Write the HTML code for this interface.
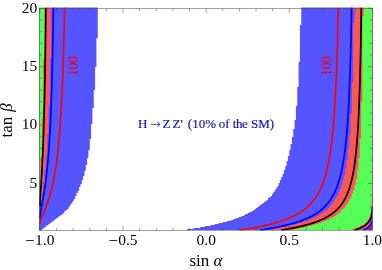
<!DOCTYPE html>
<html><head><meta charset="utf-8"><style>
html,body{margin:0;padding:0;background:#fff;}
body{width:382px;height:270px;overflow:hidden;position:relative;font-family:"Liberation Serif",serif;}
svg{position:absolute;left:0;top:0;will-change:transform;}
text{font-family:"Liberation Serif",serif;}
</style></head><body>
<svg width="382" height="270" viewBox="0 0 382 270">
<defs><clipPath id="cp"><rect x="39.2" y="7.5" width="333.3" height="223.0"/></clipPath></defs>
<g>
<rect x="51.21" y="7.5" width="46.55" height="0.5" fill="#5555ff"/>
<rect x="301.25" y="7.5" width="53.20" height="0.5" fill="#5555ff"/>
<rect x="39.23" y="8" width="58.52" height="1" fill="#5555ff"/>
<rect x="301.25" y="8" width="71.25" height="1" fill="#5555ff"/>
<rect x="39.23" y="9" width="58.52" height="1" fill="#5555ff"/>
<rect x="301.25" y="9" width="71.25" height="1" fill="#5555ff"/>
<rect x="39.23" y="10" width="58.52" height="1" fill="#5555ff"/>
<rect x="301.25" y="10" width="71.25" height="1" fill="#5555ff"/>
<rect x="39.23" y="11" width="58.52" height="1" fill="#5555ff"/>
<rect x="301.25" y="11" width="71.25" height="1" fill="#5555ff"/>
<rect x="39.23" y="12" width="58.52" height="1" fill="#5555ff"/>
<rect x="301.25" y="12" width="71.25" height="1" fill="#5555ff"/>
<rect x="39.23" y="13" width="58.52" height="1" fill="#5555ff"/>
<rect x="301.25" y="13" width="71.25" height="1" fill="#5555ff"/>
<rect x="39.23" y="14" width="58.52" height="1" fill="#5555ff"/>
<rect x="301.25" y="14" width="71.25" height="1" fill="#5555ff"/>
<rect x="39.23" y="15" width="58.52" height="1" fill="#5555ff"/>
<rect x="301.25" y="15" width="71.25" height="1" fill="#5555ff"/>
<rect x="39.23" y="16" width="58.52" height="1" fill="#5555ff"/>
<rect x="301.25" y="16" width="71.25" height="1" fill="#5555ff"/>
<rect x="39.23" y="17" width="58.52" height="1" fill="#5555ff"/>
<rect x="301.25" y="17" width="71.25" height="1" fill="#5555ff"/>
<rect x="39.23" y="18" width="58.52" height="1" fill="#5555ff"/>
<rect x="301.25" y="18" width="71.25" height="1" fill="#5555ff"/>
<rect x="39.23" y="19" width="58.52" height="1" fill="#5555ff"/>
<rect x="301.25" y="19" width="71.25" height="1" fill="#5555ff"/>
<rect x="39.23" y="20" width="58.52" height="1" fill="#5555ff"/>
<rect x="301.25" y="20" width="71.25" height="1" fill="#5555ff"/>
<rect x="39.23" y="21" width="58.52" height="1" fill="#5555ff"/>
<rect x="301.25" y="21" width="71.25" height="1" fill="#5555ff"/>
<rect x="39.23" y="22" width="58.52" height="1" fill="#5555ff"/>
<rect x="301.25" y="22" width="71.25" height="1" fill="#5555ff"/>
<rect x="39.23" y="23" width="58.52" height="1" fill="#5555ff"/>
<rect x="301.25" y="23" width="71.25" height="1" fill="#5555ff"/>
<rect x="39.23" y="24" width="58.52" height="1" fill="#5555ff"/>
<rect x="301.25" y="24" width="71.25" height="1" fill="#5555ff"/>
<rect x="39.23" y="25" width="58.52" height="1" fill="#5555ff"/>
<rect x="299.91" y="25" width="72.59" height="1" fill="#5555ff"/>
<rect x="39.23" y="26" width="58.52" height="1" fill="#5555ff"/>
<rect x="299.91" y="26" width="72.59" height="1" fill="#5555ff"/>
<rect x="39.23" y="27" width="58.52" height="1" fill="#5555ff"/>
<rect x="299.91" y="27" width="72.59" height="1" fill="#5555ff"/>
<rect x="39.23" y="28" width="58.52" height="1" fill="#5555ff"/>
<rect x="299.91" y="28" width="72.59" height="1" fill="#5555ff"/>
<rect x="39.23" y="29" width="58.52" height="1" fill="#5555ff"/>
<rect x="299.91" y="29" width="72.59" height="1" fill="#5555ff"/>
<rect x="39.23" y="30" width="58.52" height="1" fill="#5555ff"/>
<rect x="299.91" y="30" width="72.59" height="1" fill="#5555ff"/>
<rect x="39.23" y="31" width="58.52" height="1" fill="#5555ff"/>
<rect x="299.91" y="31" width="72.59" height="1" fill="#5555ff"/>
<rect x="39.23" y="32" width="58.52" height="1" fill="#5555ff"/>
<rect x="299.91" y="32" width="72.59" height="1" fill="#5555ff"/>
<rect x="39.23" y="33" width="58.52" height="1" fill="#5555ff"/>
<rect x="299.91" y="33" width="72.59" height="1" fill="#5555ff"/>
<rect x="39.23" y="34" width="58.52" height="1" fill="#5555ff"/>
<rect x="299.91" y="34" width="72.59" height="1" fill="#5555ff"/>
<rect x="39.23" y="35" width="58.52" height="1" fill="#5555ff"/>
<rect x="299.91" y="35" width="72.59" height="1" fill="#5555ff"/>
<rect x="39.23" y="36" width="58.52" height="1" fill="#5555ff"/>
<rect x="299.91" y="36" width="72.59" height="1" fill="#5555ff"/>
<rect x="39.23" y="37" width="58.52" height="1" fill="#5555ff"/>
<rect x="299.91" y="37" width="72.59" height="1" fill="#5555ff"/>
<rect x="39.23" y="38" width="57.19" height="1" fill="#5555ff"/>
<rect x="299.91" y="38" width="72.59" height="1" fill="#5555ff"/>
<rect x="39.23" y="39" width="57.19" height="1" fill="#5555ff"/>
<rect x="299.91" y="39" width="72.59" height="1" fill="#5555ff"/>
<rect x="39.23" y="40" width="57.19" height="1" fill="#5555ff"/>
<rect x="299.91" y="40" width="72.59" height="1" fill="#5555ff"/>
<rect x="39.23" y="41" width="57.19" height="1" fill="#5555ff"/>
<rect x="299.91" y="41" width="72.59" height="1" fill="#5555ff"/>
<rect x="39.23" y="42" width="57.19" height="1" fill="#5555ff"/>
<rect x="299.91" y="42" width="72.59" height="1" fill="#5555ff"/>
<rect x="39.23" y="43" width="57.19" height="1" fill="#5555ff"/>
<rect x="299.91" y="43" width="72.59" height="1" fill="#5555ff"/>
<rect x="39.23" y="44" width="57.19" height="1" fill="#5555ff"/>
<rect x="299.91" y="44" width="72.59" height="1" fill="#5555ff"/>
<rect x="39.23" y="45" width="57.19" height="1" fill="#5555ff"/>
<rect x="299.91" y="45" width="72.59" height="1" fill="#5555ff"/>
<rect x="39.23" y="46" width="57.19" height="1" fill="#5555ff"/>
<rect x="299.91" y="46" width="72.59" height="1" fill="#5555ff"/>
<rect x="39.23" y="47" width="57.19" height="1" fill="#5555ff"/>
<rect x="299.91" y="47" width="72.59" height="1" fill="#5555ff"/>
<rect x="39.23" y="48" width="57.19" height="1" fill="#5555ff"/>
<rect x="299.91" y="48" width="72.59" height="1" fill="#5555ff"/>
<rect x="39.23" y="49" width="57.19" height="1" fill="#5555ff"/>
<rect x="299.91" y="49" width="72.59" height="1" fill="#5555ff"/>
<rect x="39.23" y="50" width="57.19" height="1" fill="#5555ff"/>
<rect x="299.91" y="50" width="72.59" height="1" fill="#5555ff"/>
<rect x="39.23" y="51" width="57.19" height="1" fill="#5555ff"/>
<rect x="299.91" y="51" width="72.59" height="1" fill="#5555ff"/>
<rect x="39.23" y="52" width="57.19" height="1" fill="#5555ff"/>
<rect x="299.91" y="52" width="72.59" height="1" fill="#5555ff"/>
<rect x="39.23" y="53" width="57.19" height="1" fill="#5555ff"/>
<rect x="299.91" y="53" width="72.59" height="1" fill="#5555ff"/>
<rect x="39.23" y="54" width="57.19" height="1" fill="#5555ff"/>
<rect x="299.91" y="54" width="72.59" height="1" fill="#5555ff"/>
<rect x="39.23" y="55" width="57.19" height="1" fill="#5555ff"/>
<rect x="299.91" y="55" width="72.59" height="1" fill="#5555ff"/>
<rect x="39.23" y="56" width="57.19" height="1" fill="#5555ff"/>
<rect x="299.91" y="56" width="72.59" height="1" fill="#5555ff"/>
<rect x="39.23" y="57" width="57.19" height="1" fill="#5555ff"/>
<rect x="299.91" y="57" width="72.59" height="1" fill="#5555ff"/>
<rect x="39.23" y="58" width="57.19" height="1" fill="#5555ff"/>
<rect x="299.91" y="58" width="72.59" height="1" fill="#5555ff"/>
<rect x="39.23" y="59" width="57.19" height="1" fill="#5555ff"/>
<rect x="299.91" y="59" width="72.59" height="1" fill="#5555ff"/>
<rect x="39.23" y="60" width="57.19" height="1" fill="#5555ff"/>
<rect x="299.91" y="60" width="72.59" height="1" fill="#5555ff"/>
<rect x="39.23" y="61" width="57.19" height="1" fill="#5555ff"/>
<rect x="299.91" y="61" width="72.59" height="1" fill="#5555ff"/>
<rect x="39.23" y="62" width="57.19" height="1" fill="#5555ff"/>
<rect x="298.58" y="62" width="73.92" height="1" fill="#5555ff"/>
<rect x="39.23" y="63" width="57.19" height="1" fill="#5555ff"/>
<rect x="298.58" y="63" width="73.92" height="1" fill="#5555ff"/>
<rect x="39.23" y="64" width="57.19" height="1" fill="#5555ff"/>
<rect x="298.58" y="64" width="73.92" height="1" fill="#5555ff"/>
<rect x="39.23" y="65" width="57.19" height="1" fill="#5555ff"/>
<rect x="298.58" y="65" width="73.92" height="1" fill="#5555ff"/>
<rect x="39.23" y="66" width="57.19" height="1" fill="#5555ff"/>
<rect x="298.58" y="66" width="73.92" height="1" fill="#5555ff"/>
<rect x="39.23" y="67" width="55.86" height="1" fill="#5555ff"/>
<rect x="298.58" y="67" width="73.92" height="1" fill="#5555ff"/>
<rect x="39.23" y="68" width="55.86" height="1" fill="#5555ff"/>
<rect x="298.58" y="68" width="73.92" height="1" fill="#5555ff"/>
<rect x="39.23" y="69" width="55.86" height="1" fill="#5555ff"/>
<rect x="298.58" y="69" width="73.92" height="1" fill="#5555ff"/>
<rect x="39.23" y="70" width="55.86" height="1" fill="#5555ff"/>
<rect x="298.58" y="70" width="73.92" height="1" fill="#5555ff"/>
<rect x="39.23" y="71" width="55.86" height="1" fill="#5555ff"/>
<rect x="298.58" y="71" width="73.92" height="1" fill="#5555ff"/>
<rect x="39.23" y="72" width="55.86" height="1" fill="#5555ff"/>
<rect x="298.58" y="72" width="73.92" height="1" fill="#5555ff"/>
<rect x="39.23" y="73" width="55.86" height="1" fill="#5555ff"/>
<rect x="298.58" y="73" width="73.92" height="1" fill="#5555ff"/>
<rect x="39.23" y="74" width="55.86" height="1" fill="#5555ff"/>
<rect x="298.58" y="74" width="73.92" height="1" fill="#5555ff"/>
<rect x="39.23" y="75" width="55.86" height="1" fill="#5555ff"/>
<rect x="298.58" y="75" width="73.92" height="1" fill="#5555ff"/>
<rect x="39.23" y="76" width="55.86" height="1" fill="#5555ff"/>
<rect x="298.58" y="76" width="73.92" height="1" fill="#5555ff"/>
<rect x="39.23" y="77" width="55.86" height="1" fill="#5555ff"/>
<rect x="298.58" y="77" width="73.92" height="1" fill="#5555ff"/>
<rect x="39.23" y="78" width="55.86" height="1" fill="#5555ff"/>
<rect x="298.58" y="78" width="73.92" height="1" fill="#5555ff"/>
<rect x="39.23" y="79" width="55.86" height="1" fill="#5555ff"/>
<rect x="298.58" y="79" width="73.92" height="1" fill="#5555ff"/>
<rect x="39.23" y="80" width="55.86" height="1" fill="#5555ff"/>
<rect x="298.58" y="80" width="73.92" height="1" fill="#5555ff"/>
<rect x="39.23" y="81" width="55.86" height="1" fill="#5555ff"/>
<rect x="298.58" y="81" width="73.92" height="1" fill="#5555ff"/>
<rect x="39.23" y="82" width="55.86" height="1" fill="#5555ff"/>
<rect x="298.58" y="82" width="73.92" height="1" fill="#5555ff"/>
<rect x="39.23" y="83" width="55.86" height="1" fill="#5555ff"/>
<rect x="298.58" y="83" width="73.92" height="1" fill="#5555ff"/>
<rect x="39.23" y="84" width="55.86" height="1" fill="#5555ff"/>
<rect x="298.58" y="84" width="73.92" height="1" fill="#5555ff"/>
<rect x="39.23" y="85" width="55.86" height="1" fill="#5555ff"/>
<rect x="298.58" y="85" width="73.92" height="1" fill="#5555ff"/>
<rect x="39.23" y="86" width="55.86" height="1" fill="#5555ff"/>
<rect x="298.58" y="86" width="73.92" height="1" fill="#5555ff"/>
<rect x="39.23" y="87" width="55.86" height="1" fill="#5555ff"/>
<rect x="297.25" y="87" width="75.25" height="1" fill="#5555ff"/>
<rect x="39.23" y="88" width="55.86" height="1" fill="#5555ff"/>
<rect x="297.25" y="88" width="75.25" height="1" fill="#5555ff"/>
<rect x="39.23" y="89" width="55.86" height="1" fill="#5555ff"/>
<rect x="297.25" y="89" width="75.25" height="1" fill="#5555ff"/>
<rect x="39.23" y="90" width="54.53" height="1" fill="#5555ff"/>
<rect x="297.25" y="90" width="75.25" height="1" fill="#5555ff"/>
<rect x="39.23" y="91" width="54.53" height="1" fill="#5555ff"/>
<rect x="297.25" y="91" width="75.25" height="1" fill="#5555ff"/>
<rect x="39.23" y="92" width="54.53" height="1" fill="#5555ff"/>
<rect x="297.25" y="92" width="75.25" height="1" fill="#5555ff"/>
<rect x="39.23" y="93" width="54.53" height="1" fill="#5555ff"/>
<rect x="297.25" y="93" width="75.25" height="1" fill="#5555ff"/>
<rect x="39.23" y="94" width="54.53" height="1" fill="#5555ff"/>
<rect x="297.25" y="94" width="75.25" height="1" fill="#5555ff"/>
<rect x="39.23" y="95" width="54.53" height="1" fill="#5555ff"/>
<rect x="297.25" y="95" width="75.25" height="1" fill="#5555ff"/>
<rect x="39.23" y="96" width="54.53" height="1" fill="#5555ff"/>
<rect x="297.25" y="96" width="75.25" height="1" fill="#5555ff"/>
<rect x="39.23" y="97" width="54.53" height="1" fill="#5555ff"/>
<rect x="297.25" y="97" width="75.25" height="1" fill="#5555ff"/>
<rect x="39.23" y="98" width="54.53" height="1" fill="#5555ff"/>
<rect x="297.25" y="98" width="75.25" height="1" fill="#5555ff"/>
<rect x="39.23" y="99" width="54.53" height="1" fill="#5555ff"/>
<rect x="297.25" y="99" width="75.25" height="1" fill="#5555ff"/>
<rect x="39.23" y="100" width="54.53" height="1" fill="#5555ff"/>
<rect x="297.25" y="100" width="75.25" height="1" fill="#5555ff"/>
<rect x="39.23" y="101" width="54.53" height="1" fill="#5555ff"/>
<rect x="297.25" y="101" width="75.25" height="1" fill="#5555ff"/>
<rect x="39.23" y="102" width="54.53" height="1" fill="#5555ff"/>
<rect x="297.25" y="102" width="75.25" height="1" fill="#5555ff"/>
<rect x="39.23" y="103" width="54.53" height="1" fill="#5555ff"/>
<rect x="297.25" y="103" width="75.25" height="1" fill="#5555ff"/>
<rect x="39.23" y="104" width="54.53" height="1" fill="#5555ff"/>
<rect x="297.25" y="104" width="75.25" height="1" fill="#5555ff"/>
<rect x="39.23" y="105" width="54.53" height="1" fill="#5555ff"/>
<rect x="297.25" y="105" width="75.25" height="1" fill="#5555ff"/>
<rect x="39.23" y="106" width="54.53" height="1" fill="#5555ff"/>
<rect x="295.93" y="106" width="76.57" height="1" fill="#5555ff"/>
<rect x="39.23" y="107" width="54.53" height="1" fill="#5555ff"/>
<rect x="295.93" y="107" width="76.57" height="1" fill="#5555ff"/>
<rect x="39.23" y="108" width="53.20" height="1" fill="#5555ff"/>
<rect x="295.93" y="108" width="76.57" height="1" fill="#5555ff"/>
<rect x="39.23" y="109" width="53.20" height="1" fill="#5555ff"/>
<rect x="295.93" y="109" width="76.57" height="1" fill="#5555ff"/>
<rect x="39.23" y="110" width="53.20" height="1" fill="#5555ff"/>
<rect x="295.93" y="110" width="76.57" height="1" fill="#5555ff"/>
<rect x="39.23" y="111" width="53.20" height="1" fill="#5555ff"/>
<rect x="295.93" y="111" width="76.57" height="1" fill="#5555ff"/>
<rect x="39.23" y="112" width="53.20" height="1" fill="#5555ff"/>
<rect x="295.93" y="112" width="76.57" height="1" fill="#5555ff"/>
<rect x="39.23" y="113" width="53.20" height="1" fill="#5555ff"/>
<rect x="295.93" y="113" width="76.57" height="1" fill="#5555ff"/>
<rect x="39.23" y="114" width="53.20" height="1" fill="#5555ff"/>
<rect x="295.93" y="114" width="76.57" height="1" fill="#5555ff"/>
<rect x="39.23" y="115" width="53.20" height="1" fill="#5555ff"/>
<rect x="295.93" y="115" width="76.57" height="1" fill="#5555ff"/>
<rect x="39.23" y="116" width="53.20" height="1" fill="#5555ff"/>
<rect x="295.93" y="116" width="76.57" height="1" fill="#5555ff"/>
<rect x="39.23" y="117" width="53.20" height="1" fill="#5555ff"/>
<rect x="295.93" y="117" width="76.57" height="1" fill="#5555ff"/>
<rect x="39.23" y="118" width="53.20" height="1" fill="#5555ff"/>
<rect x="295.93" y="118" width="76.57" height="1" fill="#5555ff"/>
<rect x="39.23" y="119" width="53.20" height="1" fill="#5555ff"/>
<rect x="295.93" y="119" width="76.57" height="1" fill="#5555ff"/>
<rect x="39.23" y="120" width="53.20" height="1" fill="#5555ff"/>
<rect x="294.59" y="120" width="77.91" height="1" fill="#5555ff"/>
<rect x="39.23" y="121" width="53.20" height="1" fill="#5555ff"/>
<rect x="294.59" y="121" width="77.91" height="1" fill="#5555ff"/>
<rect x="39.23" y="122" width="53.20" height="1" fill="#5555ff"/>
<rect x="294.59" y="122" width="77.91" height="1" fill="#5555ff"/>
<rect x="39.23" y="123" width="53.20" height="1" fill="#5555ff"/>
<rect x="294.59" y="123" width="77.91" height="1" fill="#5555ff"/>
<rect x="39.23" y="124" width="51.87" height="1" fill="#5555ff"/>
<rect x="294.59" y="124" width="77.91" height="1" fill="#5555ff"/>
<rect x="39.23" y="125" width="51.87" height="1" fill="#5555ff"/>
<rect x="294.59" y="125" width="77.91" height="1" fill="#5555ff"/>
<rect x="39.23" y="126" width="51.87" height="1" fill="#5555ff"/>
<rect x="294.59" y="126" width="77.91" height="1" fill="#5555ff"/>
<rect x="39.23" y="127" width="51.87" height="1" fill="#5555ff"/>
<rect x="294.59" y="127" width="77.91" height="1" fill="#5555ff"/>
<rect x="39.23" y="128" width="51.87" height="1" fill="#5555ff"/>
<rect x="294.59" y="128" width="77.91" height="1" fill="#5555ff"/>
<rect x="39.23" y="129" width="51.87" height="1" fill="#5555ff"/>
<rect x="293.26" y="129" width="79.24" height="1" fill="#5555ff"/>
<rect x="39.23" y="130" width="51.87" height="1" fill="#5555ff"/>
<rect x="293.26" y="130" width="79.24" height="1" fill="#5555ff"/>
<rect x="39.23" y="131" width="51.87" height="1" fill="#5555ff"/>
<rect x="293.26" y="131" width="79.24" height="1" fill="#5555ff"/>
<rect x="39.23" y="132" width="51.87" height="1" fill="#5555ff"/>
<rect x="293.26" y="132" width="79.24" height="1" fill="#5555ff"/>
<rect x="39.23" y="133" width="51.87" height="1" fill="#5555ff"/>
<rect x="293.26" y="133" width="79.24" height="1" fill="#5555ff"/>
<rect x="39.23" y="134" width="51.87" height="1" fill="#5555ff"/>
<rect x="293.26" y="134" width="79.24" height="1" fill="#5555ff"/>
<rect x="39.23" y="135" width="51.87" height="1" fill="#5555ff"/>
<rect x="293.26" y="135" width="79.24" height="1" fill="#5555ff"/>
<rect x="39.23" y="136" width="51.87" height="1" fill="#5555ff"/>
<rect x="293.26" y="136" width="79.24" height="1" fill="#5555ff"/>
<rect x="39.23" y="137" width="51.87" height="1" fill="#5555ff"/>
<rect x="291.94" y="137" width="80.56" height="1" fill="#5555ff"/>
<rect x="39.23" y="138" width="51.87" height="1" fill="#5555ff"/>
<rect x="291.94" y="138" width="80.56" height="1" fill="#5555ff"/>
<rect x="39.23" y="139" width="50.54" height="1" fill="#5555ff"/>
<rect x="291.94" y="139" width="80.56" height="1" fill="#5555ff"/>
<rect x="39.23" y="140" width="50.54" height="1" fill="#5555ff"/>
<rect x="291.94" y="140" width="80.56" height="1" fill="#5555ff"/>
<rect x="39.23" y="141" width="50.54" height="1" fill="#5555ff"/>
<rect x="291.94" y="141" width="80.56" height="1" fill="#5555ff"/>
<rect x="39.23" y="142" width="50.54" height="1" fill="#5555ff"/>
<rect x="291.94" y="142" width="80.56" height="1" fill="#5555ff"/>
<rect x="39.23" y="143" width="50.54" height="1" fill="#5555ff"/>
<rect x="291.94" y="143" width="80.56" height="1" fill="#5555ff"/>
<rect x="39.23" y="144" width="50.54" height="1" fill="#5555ff"/>
<rect x="290.61" y="144" width="81.89" height="1" fill="#5555ff"/>
<rect x="39.23" y="145" width="50.54" height="1" fill="#5555ff"/>
<rect x="290.61" y="145" width="81.89" height="1" fill="#5555ff"/>
<rect x="39.23" y="146" width="50.54" height="1" fill="#5555ff"/>
<rect x="290.61" y="146" width="81.89" height="1" fill="#5555ff"/>
<rect x="39.23" y="147" width="50.54" height="1" fill="#5555ff"/>
<rect x="290.61" y="147" width="81.89" height="1" fill="#5555ff"/>
<rect x="39.23" y="148" width="50.54" height="1" fill="#5555ff"/>
<rect x="290.61" y="148" width="81.89" height="1" fill="#5555ff"/>
<rect x="39.23" y="149" width="50.54" height="1" fill="#5555ff"/>
<rect x="290.61" y="149" width="81.89" height="1" fill="#5555ff"/>
<rect x="39.23" y="150" width="49.21" height="1" fill="#5555ff"/>
<rect x="289.27" y="150" width="83.23" height="1" fill="#5555ff"/>
<rect x="39.23" y="151" width="49.21" height="1" fill="#5555ff"/>
<rect x="289.27" y="151" width="83.23" height="1" fill="#5555ff"/>
<rect x="39.23" y="152" width="49.21" height="1" fill="#5555ff"/>
<rect x="289.27" y="152" width="83.23" height="1" fill="#5555ff"/>
<rect x="39.23" y="153" width="49.21" height="1" fill="#5555ff"/>
<rect x="289.27" y="153" width="83.23" height="1" fill="#5555ff"/>
<rect x="39.23" y="154" width="49.21" height="1" fill="#5555ff"/>
<rect x="289.27" y="154" width="83.23" height="1" fill="#5555ff"/>
<rect x="39.23" y="155" width="49.21" height="1" fill="#5555ff"/>
<rect x="289.27" y="155" width="83.23" height="1" fill="#5555ff"/>
<rect x="39.23" y="156" width="49.21" height="1" fill="#5555ff"/>
<rect x="287.94" y="156" width="84.56" height="1" fill="#5555ff"/>
<rect x="39.23" y="157" width="49.21" height="1" fill="#5555ff"/>
<rect x="287.94" y="157" width="84.56" height="1" fill="#5555ff"/>
<rect x="39.23" y="158" width="47.88" height="1" fill="#5555ff"/>
<rect x="287.94" y="158" width="84.56" height="1" fill="#5555ff"/>
<rect x="39.23" y="159" width="47.88" height="1" fill="#5555ff"/>
<rect x="287.94" y="159" width="84.56" height="1" fill="#5555ff"/>
<rect x="39.23" y="160" width="47.88" height="1" fill="#5555ff"/>
<rect x="287.94" y="160" width="84.56" height="1" fill="#5555ff"/>
<rect x="39.23" y="161" width="47.88" height="1" fill="#5555ff"/>
<rect x="286.62" y="161" width="85.88" height="1" fill="#5555ff"/>
<rect x="39.23" y="162" width="47.88" height="1" fill="#5555ff"/>
<rect x="286.62" y="162" width="85.88" height="1" fill="#5555ff"/>
<rect x="39.23" y="163" width="47.88" height="1" fill="#5555ff"/>
<rect x="286.62" y="163" width="85.88" height="1" fill="#5555ff"/>
<rect x="39.23" y="164" width="47.88" height="1" fill="#5555ff"/>
<rect x="286.62" y="164" width="85.88" height="1" fill="#5555ff"/>
<rect x="39.23" y="165" width="46.55" height="1" fill="#5555ff"/>
<rect x="286.62" y="165" width="85.88" height="1" fill="#5555ff"/>
<rect x="39.23" y="166" width="46.55" height="1" fill="#5555ff"/>
<rect x="285.28" y="166" width="87.22" height="1" fill="#5555ff"/>
<rect x="39.23" y="167" width="46.55" height="1" fill="#5555ff"/>
<rect x="285.28" y="167" width="87.22" height="1" fill="#5555ff"/>
<rect x="39.23" y="168" width="46.55" height="1" fill="#5555ff"/>
<rect x="285.28" y="168" width="87.22" height="1" fill="#5555ff"/>
<rect x="39.23" y="169" width="46.55" height="1" fill="#5555ff"/>
<rect x="285.28" y="169" width="87.22" height="1" fill="#5555ff"/>
<rect x="39.23" y="170" width="46.55" height="1" fill="#5555ff"/>
<rect x="283.95" y="170" width="88.55" height="1" fill="#5555ff"/>
<rect x="39.23" y="171" width="45.22" height="1" fill="#5555ff"/>
<rect x="283.95" y="171" width="88.55" height="1" fill="#5555ff"/>
<rect x="39.23" y="172" width="45.22" height="1" fill="#5555ff"/>
<rect x="283.95" y="172" width="88.55" height="1" fill="#5555ff"/>
<rect x="39.23" y="173" width="45.22" height="1" fill="#5555ff"/>
<rect x="283.95" y="173" width="88.55" height="1" fill="#5555ff"/>
<rect x="39.23" y="174" width="45.22" height="1" fill="#5555ff"/>
<rect x="282.62" y="174" width="89.88" height="1" fill="#5555ff"/>
<rect x="39.23" y="175" width="45.22" height="1" fill="#5555ff"/>
<rect x="282.62" y="175" width="89.88" height="1" fill="#5555ff"/>
<rect x="39.23" y="176" width="43.89" height="1" fill="#5555ff"/>
<rect x="282.62" y="176" width="89.88" height="1" fill="#5555ff"/>
<rect x="39.23" y="177" width="43.89" height="1" fill="#5555ff"/>
<rect x="281.29" y="177" width="91.21" height="1" fill="#5555ff"/>
<rect x="39.23" y="178" width="43.89" height="1" fill="#5555ff"/>
<rect x="281.29" y="178" width="91.21" height="1" fill="#5555ff"/>
<rect x="39.23" y="179" width="43.89" height="1" fill="#5555ff"/>
<rect x="281.29" y="179" width="91.21" height="1" fill="#5555ff"/>
<rect x="39.23" y="180" width="42.56" height="1" fill="#5555ff"/>
<rect x="279.96" y="180" width="92.54" height="1" fill="#5555ff"/>
<rect x="39.23" y="181" width="42.56" height="1" fill="#5555ff"/>
<rect x="279.96" y="181" width="92.54" height="1" fill="#5555ff"/>
<rect x="39.23" y="182" width="42.56" height="1" fill="#5555ff"/>
<rect x="279.96" y="182" width="92.54" height="1" fill="#5555ff"/>
<rect x="39.23" y="183" width="42.56" height="1" fill="#5555ff"/>
<rect x="278.63" y="183" width="93.87" height="1" fill="#5555ff"/>
<rect x="39.23" y="184" width="41.23" height="1" fill="#5555ff"/>
<rect x="278.63" y="184" width="93.87" height="1" fill="#5555ff"/>
<rect x="39.23" y="185" width="41.23" height="1" fill="#5555ff"/>
<rect x="278.63" y="185" width="93.87" height="1" fill="#5555ff"/>
<rect x="39.23" y="186" width="41.23" height="1" fill="#5555ff"/>
<rect x="277.31" y="186" width="95.19" height="1" fill="#5555ff"/>
<rect x="39.23" y="187" width="39.90" height="1" fill="#5555ff"/>
<rect x="277.31" y="187" width="95.19" height="1" fill="#5555ff"/>
<rect x="39.23" y="188" width="39.90" height="1" fill="#5555ff"/>
<rect x="275.97" y="188" width="96.53" height="1" fill="#5555ff"/>
<rect x="39.23" y="189" width="39.90" height="1" fill="#5555ff"/>
<rect x="275.97" y="189" width="96.53" height="1" fill="#5555ff"/>
<rect x="39.23" y="190" width="39.90" height="1" fill="#5555ff"/>
<rect x="274.64" y="190" width="97.86" height="1" fill="#5555ff"/>
<rect x="39.23" y="191" width="38.57" height="1" fill="#5555ff"/>
<rect x="274.64" y="191" width="97.86" height="1" fill="#5555ff"/>
<rect x="39.23" y="192" width="38.57" height="1" fill="#5555ff"/>
<rect x="273.31" y="192" width="99.19" height="1" fill="#5555ff"/>
<rect x="39.23" y="193" width="37.24" height="1" fill="#5555ff"/>
<rect x="273.31" y="193" width="99.19" height="1" fill="#5555ff"/>
<rect x="39.23" y="194" width="37.24" height="1" fill="#5555ff"/>
<rect x="271.99" y="194" width="100.51" height="1" fill="#5555ff"/>
<rect x="39.23" y="195" width="37.24" height="1" fill="#5555ff"/>
<rect x="271.99" y="195" width="100.51" height="1" fill="#5555ff"/>
<rect x="39.23" y="196" width="35.91" height="1" fill="#5555ff"/>
<rect x="270.66" y="196" width="101.84" height="1" fill="#5555ff"/>
<rect x="39.23" y="197" width="35.91" height="1" fill="#5555ff"/>
<rect x="269.32" y="197" width="103.18" height="1" fill="#5555ff"/>
<rect x="39.23" y="198" width="35.91" height="1" fill="#5555ff"/>
<rect x="268.00" y="198" width="104.50" height="1" fill="#5555ff"/>
<rect x="39.23" y="199" width="34.58" height="1" fill="#5555ff"/>
<rect x="268.00" y="199" width="104.50" height="1" fill="#5555ff"/>
<rect x="39.23" y="200" width="34.58" height="1" fill="#5555ff"/>
<rect x="266.67" y="200" width="105.83" height="1" fill="#5555ff"/>
<rect x="39.23" y="201" width="33.25" height="1" fill="#5555ff"/>
<rect x="265.33" y="201" width="107.17" height="1" fill="#5555ff"/>
<rect x="39.23" y="202" width="33.25" height="1" fill="#5555ff"/>
<rect x="264.00" y="202" width="108.50" height="1" fill="#5555ff"/>
<rect x="39.23" y="203" width="31.92" height="1" fill="#5555ff"/>
<rect x="262.68" y="203" width="109.82" height="1" fill="#5555ff"/>
<rect x="39.23" y="204" width="31.92" height="1" fill="#5555ff"/>
<rect x="261.35" y="204" width="111.15" height="1" fill="#5555ff"/>
<rect x="39.23" y="205" width="30.59" height="1" fill="#5555ff"/>
<rect x="260.01" y="205" width="112.49" height="1" fill="#5555ff"/>
<rect x="39.23" y="206" width="30.59" height="1" fill="#5555ff"/>
<rect x="258.69" y="206" width="113.81" height="1" fill="#5555ff"/>
<rect x="39.23" y="207" width="29.26" height="1" fill="#5555ff"/>
<rect x="257.36" y="207" width="115.14" height="1" fill="#5555ff"/>
<rect x="39.23" y="208" width="29.26" height="1" fill="#5555ff"/>
<rect x="256.02" y="208" width="116.48" height="1" fill="#5555ff"/>
<rect x="39.23" y="209" width="27.93" height="1" fill="#5555ff"/>
<rect x="254.70" y="209" width="117.80" height="1" fill="#5555ff"/>
<rect x="39.23" y="210" width="26.60" height="1" fill="#5555ff"/>
<rect x="253.37" y="210" width="119.13" height="1" fill="#5555ff"/>
<rect x="39.23" y="211" width="25.27" height="1" fill="#5555ff"/>
<rect x="252.03" y="211" width="120.47" height="1" fill="#5555ff"/>
<rect x="39.23" y="212" width="25.27" height="1" fill="#5555ff"/>
<rect x="249.38" y="212" width="123.12" height="1" fill="#5555ff"/>
<rect x="39.23" y="213" width="23.94" height="1" fill="#5555ff"/>
<rect x="248.05" y="213" width="124.45" height="1" fill="#5555ff"/>
<rect x="39.23" y="214" width="22.61" height="1" fill="#5555ff"/>
<rect x="245.38" y="214" width="127.12" height="1" fill="#5555ff"/>
<rect x="39.23" y="215" width="21.28" height="1" fill="#5555ff"/>
<rect x="244.06" y="215" width="128.44" height="1" fill="#5555ff"/>
<rect x="39.23" y="216" width="19.95" height="1" fill="#5555ff"/>
<rect x="241.40" y="216" width="131.10" height="1" fill="#5555ff"/>
<rect x="39.23" y="217" width="18.62" height="1" fill="#5555ff"/>
<rect x="238.73" y="217" width="133.77" height="1" fill="#5555ff"/>
<rect x="39.23" y="218" width="17.29" height="1" fill="#5555ff"/>
<rect x="236.07" y="218" width="136.43" height="1" fill="#5555ff"/>
<rect x="39.23" y="219" width="15.96" height="1" fill="#5555ff"/>
<rect x="233.41" y="219" width="139.09" height="1" fill="#5555ff"/>
<rect x="39.23" y="220" width="14.63" height="1" fill="#5555ff"/>
<rect x="230.76" y="220" width="141.74" height="1" fill="#5555ff"/>
<rect x="39.23" y="221" width="13.30" height="1" fill="#5555ff"/>
<rect x="226.77" y="221" width="145.73" height="1" fill="#5555ff"/>
<rect x="39.23" y="222" width="11.97" height="1" fill="#5555ff"/>
<rect x="222.78" y="222" width="149.72" height="1" fill="#5555ff"/>
<rect x="39.23" y="223" width="10.64" height="1" fill="#5555ff"/>
<rect x="218.79" y="223" width="153.71" height="1" fill="#5555ff"/>
<rect x="39.23" y="224" width="9.31" height="1" fill="#5555ff"/>
<rect x="214.80" y="224" width="157.70" height="1" fill="#5555ff"/>
<rect x="39.23" y="225" width="7.98" height="1" fill="#5555ff"/>
<rect x="210.81" y="225" width="161.69" height="1" fill="#5555ff"/>
<rect x="39.23" y="226" width="6.65" height="1" fill="#5555ff"/>
<rect x="205.49" y="226" width="167.01" height="1" fill="#5555ff"/>
<rect x="39.23" y="227" width="5.32" height="1" fill="#5555ff"/>
<rect x="200.16" y="227" width="172.34" height="1" fill="#5555ff"/>
<rect x="39.23" y="228" width="3.99" height="1" fill="#5555ff"/>
<rect x="193.52" y="228" width="178.98" height="1" fill="#5555ff"/>
<rect x="39.23" y="229" width="2.66" height="1" fill="#5555ff"/>
<rect x="186.87" y="229" width="185.63" height="1" fill="#5555ff"/>
<rect x="44.55" y="7.5" width="6.65" height="0.5" fill="#ff5555"/>
<rect x="354.44" y="7.5" width="9.31" height="0.5" fill="#ff5555"/>
<rect x="39.23" y="8" width="11.97" height="1" fill="#ff5555"/>
<rect x="354.44" y="8" width="18.06" height="1" fill="#ff5555"/>
<rect x="39.23" y="9" width="11.97" height="1" fill="#ff5555"/>
<rect x="354.44" y="9" width="18.06" height="1" fill="#ff5555"/>
<rect x="39.23" y="10" width="11.97" height="1" fill="#ff5555"/>
<rect x="354.44" y="10" width="18.06" height="1" fill="#ff5555"/>
<rect x="39.23" y="11" width="11.97" height="1" fill="#ff5555"/>
<rect x="354.44" y="11" width="18.06" height="1" fill="#ff5555"/>
<rect x="39.23" y="12" width="11.97" height="1" fill="#ff5555"/>
<rect x="354.44" y="12" width="18.06" height="1" fill="#ff5555"/>
<rect x="39.23" y="13" width="11.97" height="1" fill="#ff5555"/>
<rect x="354.44" y="13" width="18.06" height="1" fill="#ff5555"/>
<rect x="39.23" y="14" width="11.97" height="1" fill="#ff5555"/>
<rect x="354.44" y="14" width="18.06" height="1" fill="#ff5555"/>
<rect x="39.23" y="15" width="11.97" height="1" fill="#ff5555"/>
<rect x="354.44" y="15" width="18.06" height="1" fill="#ff5555"/>
<rect x="39.23" y="16" width="11.97" height="1" fill="#ff5555"/>
<rect x="354.44" y="16" width="18.06" height="1" fill="#ff5555"/>
<rect x="39.23" y="17" width="11.97" height="1" fill="#ff5555"/>
<rect x="354.44" y="17" width="18.06" height="1" fill="#ff5555"/>
<rect x="39.23" y="18" width="11.97" height="1" fill="#ff5555"/>
<rect x="354.44" y="18" width="18.06" height="1" fill="#ff5555"/>
<rect x="39.23" y="19" width="11.97" height="1" fill="#ff5555"/>
<rect x="354.44" y="19" width="18.06" height="1" fill="#ff5555"/>
<rect x="39.23" y="20" width="11.97" height="1" fill="#ff5555"/>
<rect x="354.44" y="20" width="18.06" height="1" fill="#ff5555"/>
<rect x="39.23" y="21" width="11.97" height="1" fill="#ff5555"/>
<rect x="354.44" y="21" width="18.06" height="1" fill="#ff5555"/>
<rect x="39.23" y="22" width="11.97" height="1" fill="#ff5555"/>
<rect x="354.44" y="22" width="18.06" height="1" fill="#ff5555"/>
<rect x="39.23" y="23" width="11.97" height="1" fill="#ff5555"/>
<rect x="353.12" y="23" width="19.38" height="1" fill="#ff5555"/>
<rect x="39.23" y="24" width="11.97" height="1" fill="#ff5555"/>
<rect x="353.12" y="24" width="19.38" height="1" fill="#ff5555"/>
<rect x="39.23" y="25" width="11.97" height="1" fill="#ff5555"/>
<rect x="353.12" y="25" width="19.38" height="1" fill="#ff5555"/>
<rect x="39.23" y="26" width="11.97" height="1" fill="#ff5555"/>
<rect x="353.12" y="26" width="19.38" height="1" fill="#ff5555"/>
<rect x="39.23" y="27" width="11.97" height="1" fill="#ff5555"/>
<rect x="353.12" y="27" width="19.38" height="1" fill="#ff5555"/>
<rect x="39.23" y="28" width="11.97" height="1" fill="#ff5555"/>
<rect x="353.12" y="28" width="19.38" height="1" fill="#ff5555"/>
<rect x="39.23" y="29" width="11.97" height="1" fill="#ff5555"/>
<rect x="353.12" y="29" width="19.38" height="1" fill="#ff5555"/>
<rect x="39.23" y="30" width="11.97" height="1" fill="#ff5555"/>
<rect x="353.12" y="30" width="19.38" height="1" fill="#ff5555"/>
<rect x="39.23" y="31" width="11.97" height="1" fill="#ff5555"/>
<rect x="353.12" y="31" width="19.38" height="1" fill="#ff5555"/>
<rect x="39.23" y="32" width="11.97" height="1" fill="#ff5555"/>
<rect x="353.12" y="32" width="19.38" height="1" fill="#ff5555"/>
<rect x="39.23" y="33" width="11.97" height="1" fill="#ff5555"/>
<rect x="353.12" y="33" width="19.38" height="1" fill="#ff5555"/>
<rect x="39.23" y="34" width="11.97" height="1" fill="#ff5555"/>
<rect x="353.12" y="34" width="19.38" height="1" fill="#ff5555"/>
<rect x="39.23" y="35" width="11.97" height="1" fill="#ff5555"/>
<rect x="353.12" y="35" width="19.38" height="1" fill="#ff5555"/>
<rect x="39.23" y="36" width="11.97" height="1" fill="#ff5555"/>
<rect x="353.12" y="36" width="19.38" height="1" fill="#ff5555"/>
<rect x="39.23" y="37" width="11.97" height="1" fill="#ff5555"/>
<rect x="353.12" y="37" width="19.38" height="1" fill="#ff5555"/>
<rect x="39.23" y="38" width="11.97" height="1" fill="#ff5555"/>
<rect x="353.12" y="38" width="19.38" height="1" fill="#ff5555"/>
<rect x="39.23" y="39" width="11.97" height="1" fill="#ff5555"/>
<rect x="353.12" y="39" width="19.38" height="1" fill="#ff5555"/>
<rect x="39.23" y="40" width="11.97" height="1" fill="#ff5555"/>
<rect x="353.12" y="40" width="19.38" height="1" fill="#ff5555"/>
<rect x="39.23" y="41" width="11.97" height="1" fill="#ff5555"/>
<rect x="353.12" y="41" width="19.38" height="1" fill="#ff5555"/>
<rect x="39.23" y="42" width="11.97" height="1" fill="#ff5555"/>
<rect x="353.12" y="42" width="19.38" height="1" fill="#ff5555"/>
<rect x="39.23" y="43" width="11.97" height="1" fill="#ff5555"/>
<rect x="353.12" y="43" width="19.38" height="1" fill="#ff5555"/>
<rect x="39.23" y="44" width="11.97" height="1" fill="#ff5555"/>
<rect x="353.12" y="44" width="19.38" height="1" fill="#ff5555"/>
<rect x="39.23" y="45" width="11.97" height="1" fill="#ff5555"/>
<rect x="353.12" y="45" width="19.38" height="1" fill="#ff5555"/>
<rect x="39.23" y="46" width="11.97" height="1" fill="#ff5555"/>
<rect x="353.12" y="46" width="19.38" height="1" fill="#ff5555"/>
<rect x="39.23" y="47" width="11.97" height="1" fill="#ff5555"/>
<rect x="353.12" y="47" width="19.38" height="1" fill="#ff5555"/>
<rect x="39.23" y="48" width="11.97" height="1" fill="#ff5555"/>
<rect x="353.12" y="48" width="19.38" height="1" fill="#ff5555"/>
<rect x="39.23" y="49" width="11.97" height="1" fill="#ff5555"/>
<rect x="353.12" y="49" width="19.38" height="1" fill="#ff5555"/>
<rect x="39.23" y="50" width="11.97" height="1" fill="#ff5555"/>
<rect x="353.12" y="50" width="19.38" height="1" fill="#ff5555"/>
<rect x="39.23" y="51" width="11.97" height="1" fill="#ff5555"/>
<rect x="353.12" y="51" width="19.38" height="1" fill="#ff5555"/>
<rect x="39.23" y="52" width="11.97" height="1" fill="#ff5555"/>
<rect x="353.12" y="52" width="19.38" height="1" fill="#ff5555"/>
<rect x="39.23" y="53" width="11.97" height="1" fill="#ff5555"/>
<rect x="353.12" y="53" width="19.38" height="1" fill="#ff5555"/>
<rect x="39.23" y="54" width="11.97" height="1" fill="#ff5555"/>
<rect x="353.12" y="54" width="19.38" height="1" fill="#ff5555"/>
<rect x="39.23" y="55" width="11.97" height="1" fill="#ff5555"/>
<rect x="353.12" y="55" width="19.38" height="1" fill="#ff5555"/>
<rect x="39.23" y="56" width="11.97" height="1" fill="#ff5555"/>
<rect x="353.12" y="56" width="19.38" height="1" fill="#ff5555"/>
<rect x="39.23" y="57" width="11.97" height="1" fill="#ff5555"/>
<rect x="353.12" y="57" width="19.38" height="1" fill="#ff5555"/>
<rect x="39.23" y="58" width="10.64" height="1" fill="#ff5555"/>
<rect x="353.12" y="58" width="19.38" height="1" fill="#ff5555"/>
<rect x="39.23" y="59" width="10.64" height="1" fill="#ff5555"/>
<rect x="353.12" y="59" width="19.38" height="1" fill="#ff5555"/>
<rect x="39.23" y="60" width="10.64" height="1" fill="#ff5555"/>
<rect x="353.12" y="60" width="19.38" height="1" fill="#ff5555"/>
<rect x="39.23" y="61" width="10.64" height="1" fill="#ff5555"/>
<rect x="353.12" y="61" width="19.38" height="1" fill="#ff5555"/>
<rect x="39.23" y="62" width="10.64" height="1" fill="#ff5555"/>
<rect x="353.12" y="62" width="19.38" height="1" fill="#ff5555"/>
<rect x="39.23" y="63" width="10.64" height="1" fill="#ff5555"/>
<rect x="353.12" y="63" width="19.38" height="1" fill="#ff5555"/>
<rect x="39.23" y="64" width="10.64" height="1" fill="#ff5555"/>
<rect x="353.12" y="64" width="19.38" height="1" fill="#ff5555"/>
<rect x="39.23" y="65" width="10.64" height="1" fill="#ff5555"/>
<rect x="353.12" y="65" width="19.38" height="1" fill="#ff5555"/>
<rect x="39.23" y="66" width="10.64" height="1" fill="#ff5555"/>
<rect x="353.12" y="66" width="19.38" height="1" fill="#ff5555"/>
<rect x="39.23" y="67" width="10.64" height="1" fill="#ff5555"/>
<rect x="353.12" y="67" width="19.38" height="1" fill="#ff5555"/>
<rect x="39.23" y="68" width="10.64" height="1" fill="#ff5555"/>
<rect x="353.12" y="68" width="19.38" height="1" fill="#ff5555"/>
<rect x="39.23" y="69" width="10.64" height="1" fill="#ff5555"/>
<rect x="353.12" y="69" width="19.38" height="1" fill="#ff5555"/>
<rect x="39.23" y="70" width="10.64" height="1" fill="#ff5555"/>
<rect x="353.12" y="70" width="19.38" height="1" fill="#ff5555"/>
<rect x="39.23" y="71" width="10.64" height="1" fill="#ff5555"/>
<rect x="353.12" y="71" width="19.38" height="1" fill="#ff5555"/>
<rect x="39.23" y="72" width="10.64" height="1" fill="#ff5555"/>
<rect x="353.12" y="72" width="19.38" height="1" fill="#ff5555"/>
<rect x="39.23" y="73" width="10.64" height="1" fill="#ff5555"/>
<rect x="353.12" y="73" width="19.38" height="1" fill="#ff5555"/>
<rect x="39.23" y="74" width="10.64" height="1" fill="#ff5555"/>
<rect x="353.12" y="74" width="19.38" height="1" fill="#ff5555"/>
<rect x="39.23" y="75" width="10.64" height="1" fill="#ff5555"/>
<rect x="353.12" y="75" width="19.38" height="1" fill="#ff5555"/>
<rect x="39.23" y="76" width="10.64" height="1" fill="#ff5555"/>
<rect x="353.12" y="76" width="19.38" height="1" fill="#ff5555"/>
<rect x="39.23" y="77" width="10.64" height="1" fill="#ff5555"/>
<rect x="353.12" y="77" width="19.38" height="1" fill="#ff5555"/>
<rect x="39.23" y="78" width="10.64" height="1" fill="#ff5555"/>
<rect x="353.12" y="78" width="19.38" height="1" fill="#ff5555"/>
<rect x="39.23" y="79" width="10.64" height="1" fill="#ff5555"/>
<rect x="353.12" y="79" width="19.38" height="1" fill="#ff5555"/>
<rect x="39.23" y="80" width="10.64" height="1" fill="#ff5555"/>
<rect x="353.12" y="80" width="19.38" height="1" fill="#ff5555"/>
<rect x="39.23" y="81" width="10.64" height="1" fill="#ff5555"/>
<rect x="353.12" y="81" width="19.38" height="1" fill="#ff5555"/>
<rect x="39.23" y="82" width="10.64" height="1" fill="#ff5555"/>
<rect x="351.78" y="82" width="20.72" height="1" fill="#ff5555"/>
<rect x="39.23" y="83" width="10.64" height="1" fill="#ff5555"/>
<rect x="351.78" y="83" width="20.72" height="1" fill="#ff5555"/>
<rect x="39.23" y="84" width="10.64" height="1" fill="#ff5555"/>
<rect x="351.78" y="84" width="20.72" height="1" fill="#ff5555"/>
<rect x="39.23" y="85" width="10.64" height="1" fill="#ff5555"/>
<rect x="351.78" y="85" width="20.72" height="1" fill="#ff5555"/>
<rect x="39.23" y="86" width="10.64" height="1" fill="#ff5555"/>
<rect x="351.78" y="86" width="20.72" height="1" fill="#ff5555"/>
<rect x="39.23" y="87" width="10.64" height="1" fill="#ff5555"/>
<rect x="351.78" y="87" width="20.72" height="1" fill="#ff5555"/>
<rect x="39.23" y="88" width="10.64" height="1" fill="#ff5555"/>
<rect x="351.78" y="88" width="20.72" height="1" fill="#ff5555"/>
<rect x="39.23" y="89" width="10.64" height="1" fill="#ff5555"/>
<rect x="351.78" y="89" width="20.72" height="1" fill="#ff5555"/>
<rect x="39.23" y="90" width="10.64" height="1" fill="#ff5555"/>
<rect x="351.78" y="90" width="20.72" height="1" fill="#ff5555"/>
<rect x="39.23" y="91" width="10.64" height="1" fill="#ff5555"/>
<rect x="351.78" y="91" width="20.72" height="1" fill="#ff5555"/>
<rect x="39.23" y="92" width="10.64" height="1" fill="#ff5555"/>
<rect x="351.78" y="92" width="20.72" height="1" fill="#ff5555"/>
<rect x="39.23" y="93" width="10.64" height="1" fill="#ff5555"/>
<rect x="351.78" y="93" width="20.72" height="1" fill="#ff5555"/>
<rect x="39.23" y="94" width="10.64" height="1" fill="#ff5555"/>
<rect x="351.78" y="94" width="20.72" height="1" fill="#ff5555"/>
<rect x="39.23" y="95" width="10.64" height="1" fill="#ff5555"/>
<rect x="351.78" y="95" width="20.72" height="1" fill="#ff5555"/>
<rect x="39.23" y="96" width="10.64" height="1" fill="#ff5555"/>
<rect x="351.78" y="96" width="20.72" height="1" fill="#ff5555"/>
<rect x="39.23" y="97" width="10.64" height="1" fill="#ff5555"/>
<rect x="351.78" y="97" width="20.72" height="1" fill="#ff5555"/>
<rect x="39.23" y="98" width="10.64" height="1" fill="#ff5555"/>
<rect x="351.78" y="98" width="20.72" height="1" fill="#ff5555"/>
<rect x="39.23" y="99" width="10.64" height="1" fill="#ff5555"/>
<rect x="351.78" y="99" width="20.72" height="1" fill="#ff5555"/>
<rect x="39.23" y="100" width="10.64" height="1" fill="#ff5555"/>
<rect x="351.78" y="100" width="20.72" height="1" fill="#ff5555"/>
<rect x="39.23" y="101" width="10.64" height="1" fill="#ff5555"/>
<rect x="351.78" y="101" width="20.72" height="1" fill="#ff5555"/>
<rect x="39.23" y="102" width="10.64" height="1" fill="#ff5555"/>
<rect x="351.78" y="102" width="20.72" height="1" fill="#ff5555"/>
<rect x="39.23" y="103" width="10.64" height="1" fill="#ff5555"/>
<rect x="351.78" y="103" width="20.72" height="1" fill="#ff5555"/>
<rect x="39.23" y="104" width="10.64" height="1" fill="#ff5555"/>
<rect x="351.78" y="104" width="20.72" height="1" fill="#ff5555"/>
<rect x="39.23" y="105" width="9.31" height="1" fill="#ff5555"/>
<rect x="351.78" y="105" width="20.72" height="1" fill="#ff5555"/>
<rect x="39.23" y="106" width="9.31" height="1" fill="#ff5555"/>
<rect x="351.78" y="106" width="20.72" height="1" fill="#ff5555"/>
<rect x="39.23" y="107" width="9.31" height="1" fill="#ff5555"/>
<rect x="351.78" y="107" width="20.72" height="1" fill="#ff5555"/>
<rect x="39.23" y="108" width="9.31" height="1" fill="#ff5555"/>
<rect x="351.78" y="108" width="20.72" height="1" fill="#ff5555"/>
<rect x="39.23" y="109" width="9.31" height="1" fill="#ff5555"/>
<rect x="351.78" y="109" width="20.72" height="1" fill="#ff5555"/>
<rect x="39.23" y="110" width="9.31" height="1" fill="#ff5555"/>
<rect x="351.78" y="110" width="20.72" height="1" fill="#ff5555"/>
<rect x="39.23" y="111" width="9.31" height="1" fill="#ff5555"/>
<rect x="351.78" y="111" width="20.72" height="1" fill="#ff5555"/>
<rect x="39.23" y="112" width="9.31" height="1" fill="#ff5555"/>
<rect x="351.78" y="112" width="20.72" height="1" fill="#ff5555"/>
<rect x="39.23" y="113" width="9.31" height="1" fill="#ff5555"/>
<rect x="351.78" y="113" width="20.72" height="1" fill="#ff5555"/>
<rect x="39.23" y="114" width="9.31" height="1" fill="#ff5555"/>
<rect x="350.45" y="114" width="22.05" height="1" fill="#ff5555"/>
<rect x="39.23" y="115" width="9.31" height="1" fill="#ff5555"/>
<rect x="350.45" y="115" width="22.05" height="1" fill="#ff5555"/>
<rect x="39.23" y="116" width="9.31" height="1" fill="#ff5555"/>
<rect x="350.45" y="116" width="22.05" height="1" fill="#ff5555"/>
<rect x="39.23" y="117" width="9.31" height="1" fill="#ff5555"/>
<rect x="350.45" y="117" width="22.05" height="1" fill="#ff5555"/>
<rect x="39.23" y="118" width="9.31" height="1" fill="#ff5555"/>
<rect x="350.45" y="118" width="22.05" height="1" fill="#ff5555"/>
<rect x="39.23" y="119" width="9.31" height="1" fill="#ff5555"/>
<rect x="350.45" y="119" width="22.05" height="1" fill="#ff5555"/>
<rect x="39.23" y="120" width="9.31" height="1" fill="#ff5555"/>
<rect x="350.45" y="120" width="22.05" height="1" fill="#ff5555"/>
<rect x="39.23" y="121" width="9.31" height="1" fill="#ff5555"/>
<rect x="350.45" y="121" width="22.05" height="1" fill="#ff5555"/>
<rect x="39.23" y="122" width="9.31" height="1" fill="#ff5555"/>
<rect x="350.45" y="122" width="22.05" height="1" fill="#ff5555"/>
<rect x="39.23" y="123" width="9.31" height="1" fill="#ff5555"/>
<rect x="350.45" y="123" width="22.05" height="1" fill="#ff5555"/>
<rect x="39.23" y="124" width="9.31" height="1" fill="#ff5555"/>
<rect x="350.45" y="124" width="22.05" height="1" fill="#ff5555"/>
<rect x="39.23" y="125" width="9.31" height="1" fill="#ff5555"/>
<rect x="350.45" y="125" width="22.05" height="1" fill="#ff5555"/>
<rect x="39.23" y="126" width="9.31" height="1" fill="#ff5555"/>
<rect x="350.45" y="126" width="22.05" height="1" fill="#ff5555"/>
<rect x="39.23" y="127" width="9.31" height="1" fill="#ff5555"/>
<rect x="350.45" y="127" width="22.05" height="1" fill="#ff5555"/>
<rect x="39.23" y="128" width="9.31" height="1" fill="#ff5555"/>
<rect x="350.45" y="128" width="22.05" height="1" fill="#ff5555"/>
<rect x="39.23" y="129" width="9.31" height="1" fill="#ff5555"/>
<rect x="350.45" y="129" width="22.05" height="1" fill="#ff5555"/>
<rect x="39.23" y="130" width="9.31" height="1" fill="#ff5555"/>
<rect x="350.45" y="130" width="22.05" height="1" fill="#ff5555"/>
<rect x="39.23" y="131" width="9.31" height="1" fill="#ff5555"/>
<rect x="350.45" y="131" width="22.05" height="1" fill="#ff5555"/>
<rect x="39.23" y="132" width="9.31" height="1" fill="#ff5555"/>
<rect x="350.45" y="132" width="22.05" height="1" fill="#ff5555"/>
<rect x="39.23" y="133" width="9.31" height="1" fill="#ff5555"/>
<rect x="350.45" y="133" width="22.05" height="1" fill="#ff5555"/>
<rect x="39.23" y="134" width="7.98" height="1" fill="#ff5555"/>
<rect x="350.45" y="134" width="22.05" height="1" fill="#ff5555"/>
<rect x="39.23" y="135" width="7.98" height="1" fill="#ff5555"/>
<rect x="349.12" y="135" width="23.38" height="1" fill="#ff5555"/>
<rect x="39.23" y="136" width="7.98" height="1" fill="#ff5555"/>
<rect x="349.12" y="136" width="23.38" height="1" fill="#ff5555"/>
<rect x="39.23" y="137" width="7.98" height="1" fill="#ff5555"/>
<rect x="349.12" y="137" width="23.38" height="1" fill="#ff5555"/>
<rect x="39.23" y="138" width="7.98" height="1" fill="#ff5555"/>
<rect x="349.12" y="138" width="23.38" height="1" fill="#ff5555"/>
<rect x="39.23" y="139" width="7.98" height="1" fill="#ff5555"/>
<rect x="349.12" y="139" width="23.38" height="1" fill="#ff5555"/>
<rect x="39.23" y="140" width="7.98" height="1" fill="#ff5555"/>
<rect x="349.12" y="140" width="23.38" height="1" fill="#ff5555"/>
<rect x="39.23" y="141" width="7.98" height="1" fill="#ff5555"/>
<rect x="349.12" y="141" width="23.38" height="1" fill="#ff5555"/>
<rect x="39.23" y="142" width="7.98" height="1" fill="#ff5555"/>
<rect x="349.12" y="142" width="23.38" height="1" fill="#ff5555"/>
<rect x="39.23" y="143" width="7.98" height="1" fill="#ff5555"/>
<rect x="349.12" y="143" width="23.38" height="1" fill="#ff5555"/>
<rect x="39.23" y="144" width="7.98" height="1" fill="#ff5555"/>
<rect x="349.12" y="144" width="23.38" height="1" fill="#ff5555"/>
<rect x="39.23" y="145" width="7.98" height="1" fill="#ff5555"/>
<rect x="349.12" y="145" width="23.38" height="1" fill="#ff5555"/>
<rect x="39.23" y="146" width="7.98" height="1" fill="#ff5555"/>
<rect x="349.12" y="146" width="23.38" height="1" fill="#ff5555"/>
<rect x="39.23" y="147" width="7.98" height="1" fill="#ff5555"/>
<rect x="349.12" y="147" width="23.38" height="1" fill="#ff5555"/>
<rect x="39.23" y="148" width="7.98" height="1" fill="#ff5555"/>
<rect x="349.12" y="148" width="23.38" height="1" fill="#ff5555"/>
<rect x="39.23" y="149" width="7.98" height="1" fill="#ff5555"/>
<rect x="347.80" y="149" width="24.70" height="1" fill="#ff5555"/>
<rect x="39.23" y="150" width="7.98" height="1" fill="#ff5555"/>
<rect x="347.80" y="150" width="24.70" height="1" fill="#ff5555"/>
<rect x="39.23" y="151" width="7.98" height="1" fill="#ff5555"/>
<rect x="347.80" y="151" width="24.70" height="1" fill="#ff5555"/>
<rect x="39.23" y="152" width="7.98" height="1" fill="#ff5555"/>
<rect x="347.80" y="152" width="24.70" height="1" fill="#ff5555"/>
<rect x="39.23" y="153" width="7.98" height="1" fill="#ff5555"/>
<rect x="347.80" y="153" width="24.70" height="1" fill="#ff5555"/>
<rect x="39.23" y="154" width="7.98" height="1" fill="#ff5555"/>
<rect x="347.80" y="154" width="24.70" height="1" fill="#ff5555"/>
<rect x="39.23" y="155" width="6.65" height="1" fill="#ff5555"/>
<rect x="347.80" y="155" width="24.70" height="1" fill="#ff5555"/>
<rect x="39.23" y="156" width="6.65" height="1" fill="#ff5555"/>
<rect x="347.80" y="156" width="24.70" height="1" fill="#ff5555"/>
<rect x="39.23" y="157" width="6.65" height="1" fill="#ff5555"/>
<rect x="347.80" y="157" width="24.70" height="1" fill="#ff5555"/>
<rect x="39.23" y="158" width="6.65" height="1" fill="#ff5555"/>
<rect x="347.80" y="158" width="24.70" height="1" fill="#ff5555"/>
<rect x="39.23" y="159" width="6.65" height="1" fill="#ff5555"/>
<rect x="347.80" y="159" width="24.70" height="1" fill="#ff5555"/>
<rect x="39.23" y="160" width="6.65" height="1" fill="#ff5555"/>
<rect x="346.46" y="160" width="26.04" height="1" fill="#ff5555"/>
<rect x="39.23" y="161" width="6.65" height="1" fill="#ff5555"/>
<rect x="346.46" y="161" width="26.04" height="1" fill="#ff5555"/>
<rect x="39.23" y="162" width="6.65" height="1" fill="#ff5555"/>
<rect x="346.46" y="162" width="26.04" height="1" fill="#ff5555"/>
<rect x="39.23" y="163" width="6.65" height="1" fill="#ff5555"/>
<rect x="346.46" y="163" width="26.04" height="1" fill="#ff5555"/>
<rect x="39.23" y="164" width="6.65" height="1" fill="#ff5555"/>
<rect x="346.46" y="164" width="26.04" height="1" fill="#ff5555"/>
<rect x="39.23" y="165" width="6.65" height="1" fill="#ff5555"/>
<rect x="346.46" y="165" width="26.04" height="1" fill="#ff5555"/>
<rect x="39.23" y="166" width="6.65" height="1" fill="#ff5555"/>
<rect x="346.46" y="166" width="26.04" height="1" fill="#ff5555"/>
<rect x="39.23" y="167" width="6.65" height="1" fill="#ff5555"/>
<rect x="346.46" y="167" width="26.04" height="1" fill="#ff5555"/>
<rect x="39.23" y="168" width="6.65" height="1" fill="#ff5555"/>
<rect x="345.13" y="168" width="27.37" height="1" fill="#ff5555"/>
<rect x="39.23" y="169" width="6.65" height="1" fill="#ff5555"/>
<rect x="345.13" y="169" width="27.37" height="1" fill="#ff5555"/>
<rect x="39.23" y="170" width="5.32" height="1" fill="#ff5555"/>
<rect x="345.13" y="170" width="27.37" height="1" fill="#ff5555"/>
<rect x="39.23" y="171" width="5.32" height="1" fill="#ff5555"/>
<rect x="345.13" y="171" width="27.37" height="1" fill="#ff5555"/>
<rect x="39.23" y="172" width="5.32" height="1" fill="#ff5555"/>
<rect x="345.13" y="172" width="27.37" height="1" fill="#ff5555"/>
<rect x="39.23" y="173" width="5.32" height="1" fill="#ff5555"/>
<rect x="345.13" y="173" width="27.37" height="1" fill="#ff5555"/>
<rect x="39.23" y="174" width="5.32" height="1" fill="#ff5555"/>
<rect x="345.13" y="174" width="27.37" height="1" fill="#ff5555"/>
<rect x="39.23" y="175" width="5.32" height="1" fill="#ff5555"/>
<rect x="343.81" y="175" width="28.69" height="1" fill="#ff5555"/>
<rect x="39.23" y="176" width="5.32" height="1" fill="#ff5555"/>
<rect x="343.81" y="176" width="28.69" height="1" fill="#ff5555"/>
<rect x="39.23" y="177" width="5.32" height="1" fill="#ff5555"/>
<rect x="343.81" y="177" width="28.69" height="1" fill="#ff5555"/>
<rect x="39.23" y="178" width="5.32" height="1" fill="#ff5555"/>
<rect x="343.81" y="178" width="28.69" height="1" fill="#ff5555"/>
<rect x="39.23" y="179" width="5.32" height="1" fill="#ff5555"/>
<rect x="343.81" y="179" width="28.69" height="1" fill="#ff5555"/>
<rect x="39.23" y="180" width="5.32" height="1" fill="#ff5555"/>
<rect x="342.47" y="180" width="30.03" height="1" fill="#ff5555"/>
<rect x="39.23" y="181" width="5.32" height="1" fill="#ff5555"/>
<rect x="342.47" y="181" width="30.03" height="1" fill="#ff5555"/>
<rect x="39.23" y="182" width="5.32" height="1" fill="#ff5555"/>
<rect x="342.47" y="182" width="30.03" height="1" fill="#ff5555"/>
<rect x="39.23" y="183" width="3.99" height="1" fill="#ff5555"/>
<rect x="342.47" y="183" width="30.03" height="1" fill="#ff5555"/>
<rect x="39.23" y="184" width="3.99" height="1" fill="#ff5555"/>
<rect x="342.47" y="184" width="30.03" height="1" fill="#ff5555"/>
<rect x="39.23" y="185" width="3.99" height="1" fill="#ff5555"/>
<rect x="341.14" y="185" width="31.36" height="1" fill="#ff5555"/>
<rect x="39.23" y="186" width="3.99" height="1" fill="#ff5555"/>
<rect x="341.14" y="186" width="31.36" height="1" fill="#ff5555"/>
<rect x="39.23" y="187" width="3.99" height="1" fill="#ff5555"/>
<rect x="341.14" y="187" width="31.36" height="1" fill="#ff5555"/>
<rect x="39.23" y="188" width="3.99" height="1" fill="#ff5555"/>
<rect x="341.14" y="188" width="31.36" height="1" fill="#ff5555"/>
<rect x="39.23" y="189" width="3.99" height="1" fill="#ff5555"/>
<rect x="339.81" y="189" width="32.69" height="1" fill="#ff5555"/>
<rect x="39.23" y="190" width="3.99" height="1" fill="#ff5555"/>
<rect x="339.81" y="190" width="32.69" height="1" fill="#ff5555"/>
<rect x="39.23" y="191" width="3.99" height="1" fill="#ff5555"/>
<rect x="339.81" y="191" width="32.69" height="1" fill="#ff5555"/>
<rect x="39.23" y="192" width="3.99" height="1" fill="#ff5555"/>
<rect x="338.48" y="192" width="34.02" height="1" fill="#ff5555"/>
<rect x="39.23" y="193" width="2.66" height="1" fill="#ff5555"/>
<rect x="338.48" y="193" width="34.02" height="1" fill="#ff5555"/>
<rect x="39.23" y="194" width="2.66" height="1" fill="#ff5555"/>
<rect x="338.48" y="194" width="34.02" height="1" fill="#ff5555"/>
<rect x="39.23" y="195" width="2.66" height="1" fill="#ff5555"/>
<rect x="337.15" y="195" width="35.35" height="1" fill="#ff5555"/>
<rect x="39.23" y="196" width="2.66" height="1" fill="#ff5555"/>
<rect x="337.15" y="196" width="35.35" height="1" fill="#ff5555"/>
<rect x="39.23" y="197" width="2.66" height="1" fill="#ff5555"/>
<rect x="335.82" y="197" width="36.68" height="1" fill="#ff5555"/>
<rect x="39.23" y="198" width="2.66" height="1" fill="#ff5555"/>
<rect x="335.82" y="198" width="36.68" height="1" fill="#ff5555"/>
<rect x="39.23" y="199" width="2.66" height="1" fill="#ff5555"/>
<rect x="334.50" y="199" width="38.00" height="1" fill="#ff5555"/>
<rect x="39.23" y="200" width="2.66" height="1" fill="#ff5555"/>
<rect x="334.50" y="200" width="38.00" height="1" fill="#ff5555"/>
<rect x="39.23" y="201" width="2.66" height="1" fill="#ff5555"/>
<rect x="333.16" y="201" width="39.34" height="1" fill="#ff5555"/>
<rect x="39.23" y="202" width="1.33" height="1" fill="#ff5555"/>
<rect x="333.16" y="202" width="39.34" height="1" fill="#ff5555"/>
<rect x="39.23" y="203" width="1.33" height="1" fill="#ff5555"/>
<rect x="331.83" y="203" width="40.67" height="1" fill="#ff5555"/>
<rect x="39.23" y="204" width="1.33" height="1" fill="#ff5555"/>
<rect x="331.83" y="204" width="40.67" height="1" fill="#ff5555"/>
<rect x="39.23" y="205" width="1.33" height="1" fill="#ff5555"/>
<rect x="330.50" y="205" width="42.00" height="1" fill="#ff5555"/>
<rect x="39.23" y="206" width="1.33" height="1" fill="#ff5555"/>
<rect x="329.17" y="206" width="43.33" height="1" fill="#ff5555"/>
<rect x="39.23" y="207" width="1.33" height="1" fill="#ff5555"/>
<rect x="329.17" y="207" width="43.33" height="1" fill="#ff5555"/>
<rect x="39.23" y="208" width="1.33" height="1" fill="#ff5555"/>
<rect x="327.84" y="208" width="44.66" height="1" fill="#ff5555"/>
<rect x="39.23" y="209" width="1.33" height="1" fill="#ff5555"/>
<rect x="326.51" y="209" width="45.99" height="1" fill="#ff5555"/>
<rect x="39.23" y="210" width="1.33" height="1" fill="#ff5555"/>
<rect x="325.18" y="210" width="47.32" height="1" fill="#ff5555"/>
<rect x="39.23" y="211" width="1.33" height="1" fill="#ff5555"/>
<rect x="323.85" y="211" width="48.65" height="1" fill="#ff5555"/>
<rect x="39.23" y="212" width="1.33" height="1" fill="#ff5555"/>
<rect x="322.52" y="212" width="49.98" height="1" fill="#ff5555"/>
<rect x="39.23" y="213" width="1.33" height="1" fill="#ff5555"/>
<rect x="321.19" y="213" width="51.31" height="1" fill="#ff5555"/>
<rect x="39.23" y="214" width="1.33" height="1" fill="#ff5555"/>
<rect x="319.86" y="214" width="52.64" height="1" fill="#ff5555"/>
<rect x="318.53" y="215" width="53.20" height="1" fill="#ff5555"/>
<rect x="315.88" y="216" width="55.86" height="1" fill="#ff5555"/>
<rect x="314.55" y="217" width="57.19" height="1" fill="#ff5555"/>
<rect x="311.88" y="218" width="59.85" height="1" fill="#ff5555"/>
<rect x="309.23" y="219" width="62.51" height="1" fill="#ff5555"/>
<rect x="307.89" y="220" width="63.84" height="1" fill="#ff5555"/>
<rect x="303.90" y="221" width="67.83" height="1" fill="#ff5555"/>
<rect x="301.25" y="222" width="69.16" height="1" fill="#ff5555"/>
<rect x="298.58" y="223" width="71.82" height="1" fill="#ff5555"/>
<rect x="294.59" y="224" width="75.81" height="1" fill="#ff5555"/>
<rect x="290.61" y="225" width="78.47" height="1" fill="#ff5555"/>
<rect x="286.62" y="226" width="81.13" height="1" fill="#ff5555"/>
<rect x="281.29" y="227" width="85.12" height="1" fill="#ff5555"/>
<rect x="275.97" y="228" width="89.11" height="1" fill="#ff5555"/>
<rect x="270.66" y="229" width="91.77" height="1" fill="#ff5555"/>
<rect x="39.23" y="7.5" width="5.32" height="0.5" fill="#55ff55"/>
<rect x="363.75" y="7.5" width="8.75" height="0.5" fill="#55ff55"/>
<rect x="39.23" y="8" width="5.32" height="1" fill="#55ff55"/>
<rect x="363.75" y="8" width="8.75" height="1" fill="#55ff55"/>
<rect x="39.23" y="9" width="5.32" height="1" fill="#55ff55"/>
<rect x="363.75" y="9" width="8.75" height="1" fill="#55ff55"/>
<rect x="39.23" y="10" width="5.32" height="1" fill="#55ff55"/>
<rect x="363.75" y="10" width="8.75" height="1" fill="#55ff55"/>
<rect x="39.23" y="11" width="5.32" height="1" fill="#55ff55"/>
<rect x="363.75" y="11" width="8.75" height="1" fill="#55ff55"/>
<rect x="39.23" y="12" width="5.32" height="1" fill="#55ff55"/>
<rect x="363.75" y="12" width="8.75" height="1" fill="#55ff55"/>
<rect x="39.23" y="13" width="5.32" height="1" fill="#55ff55"/>
<rect x="363.75" y="13" width="8.75" height="1" fill="#55ff55"/>
<rect x="39.23" y="14" width="5.32" height="1" fill="#55ff55"/>
<rect x="363.75" y="14" width="8.75" height="1" fill="#55ff55"/>
<rect x="39.23" y="15" width="5.32" height="1" fill="#55ff55"/>
<rect x="363.75" y="15" width="8.75" height="1" fill="#55ff55"/>
<rect x="39.23" y="16" width="5.32" height="1" fill="#55ff55"/>
<rect x="362.42" y="16" width="10.08" height="1" fill="#55ff55"/>
<rect x="39.23" y="17" width="5.32" height="1" fill="#55ff55"/>
<rect x="362.42" y="17" width="10.08" height="1" fill="#55ff55"/>
<rect x="39.23" y="18" width="5.32" height="1" fill="#55ff55"/>
<rect x="362.42" y="18" width="10.08" height="1" fill="#55ff55"/>
<rect x="39.23" y="19" width="5.32" height="1" fill="#55ff55"/>
<rect x="362.42" y="19" width="10.08" height="1" fill="#55ff55"/>
<rect x="39.23" y="20" width="5.32" height="1" fill="#55ff55"/>
<rect x="362.42" y="20" width="10.08" height="1" fill="#55ff55"/>
<rect x="39.23" y="21" width="5.32" height="1" fill="#55ff55"/>
<rect x="362.42" y="21" width="10.08" height="1" fill="#55ff55"/>
<rect x="39.23" y="22" width="5.32" height="1" fill="#55ff55"/>
<rect x="362.42" y="22" width="10.08" height="1" fill="#55ff55"/>
<rect x="39.23" y="23" width="5.32" height="1" fill="#55ff55"/>
<rect x="362.42" y="23" width="10.08" height="1" fill="#55ff55"/>
<rect x="39.23" y="24" width="5.32" height="1" fill="#55ff55"/>
<rect x="362.42" y="24" width="10.08" height="1" fill="#55ff55"/>
<rect x="39.23" y="25" width="5.32" height="1" fill="#55ff55"/>
<rect x="362.42" y="25" width="10.08" height="1" fill="#55ff55"/>
<rect x="39.23" y="26" width="5.32" height="1" fill="#55ff55"/>
<rect x="362.42" y="26" width="10.08" height="1" fill="#55ff55"/>
<rect x="39.23" y="27" width="5.32" height="1" fill="#55ff55"/>
<rect x="362.42" y="27" width="10.08" height="1" fill="#55ff55"/>
<rect x="39.23" y="28" width="5.32" height="1" fill="#55ff55"/>
<rect x="362.42" y="28" width="10.08" height="1" fill="#55ff55"/>
<rect x="39.23" y="29" width="5.32" height="1" fill="#55ff55"/>
<rect x="362.42" y="29" width="10.08" height="1" fill="#55ff55"/>
<rect x="39.23" y="30" width="5.32" height="1" fill="#55ff55"/>
<rect x="362.42" y="30" width="10.08" height="1" fill="#55ff55"/>
<rect x="39.23" y="31" width="5.32" height="1" fill="#55ff55"/>
<rect x="362.42" y="31" width="10.08" height="1" fill="#55ff55"/>
<rect x="39.23" y="32" width="5.32" height="1" fill="#55ff55"/>
<rect x="362.42" y="32" width="10.08" height="1" fill="#55ff55"/>
<rect x="39.23" y="33" width="5.32" height="1" fill="#55ff55"/>
<rect x="362.42" y="33" width="10.08" height="1" fill="#55ff55"/>
<rect x="39.23" y="34" width="5.32" height="1" fill="#55ff55"/>
<rect x="362.42" y="34" width="10.08" height="1" fill="#55ff55"/>
<rect x="39.23" y="35" width="5.32" height="1" fill="#55ff55"/>
<rect x="362.42" y="35" width="10.08" height="1" fill="#55ff55"/>
<rect x="39.23" y="36" width="5.32" height="1" fill="#55ff55"/>
<rect x="362.42" y="36" width="10.08" height="1" fill="#55ff55"/>
<rect x="39.23" y="37" width="5.32" height="1" fill="#55ff55"/>
<rect x="362.42" y="37" width="10.08" height="1" fill="#55ff55"/>
<rect x="39.23" y="38" width="5.32" height="1" fill="#55ff55"/>
<rect x="362.42" y="38" width="10.08" height="1" fill="#55ff55"/>
<rect x="39.23" y="39" width="5.32" height="1" fill="#55ff55"/>
<rect x="362.42" y="39" width="10.08" height="1" fill="#55ff55"/>
<rect x="39.23" y="40" width="5.32" height="1" fill="#55ff55"/>
<rect x="362.42" y="40" width="10.08" height="1" fill="#55ff55"/>
<rect x="39.23" y="41" width="5.32" height="1" fill="#55ff55"/>
<rect x="362.42" y="41" width="10.08" height="1" fill="#55ff55"/>
<rect x="39.23" y="42" width="5.32" height="1" fill="#55ff55"/>
<rect x="362.42" y="42" width="10.08" height="1" fill="#55ff55"/>
<rect x="39.23" y="43" width="5.32" height="1" fill="#55ff55"/>
<rect x="362.42" y="43" width="10.08" height="1" fill="#55ff55"/>
<rect x="39.23" y="44" width="5.32" height="1" fill="#55ff55"/>
<rect x="362.42" y="44" width="10.08" height="1" fill="#55ff55"/>
<rect x="39.23" y="45" width="5.32" height="1" fill="#55ff55"/>
<rect x="362.42" y="45" width="10.08" height="1" fill="#55ff55"/>
<rect x="39.23" y="46" width="5.32" height="1" fill="#55ff55"/>
<rect x="362.42" y="46" width="10.08" height="1" fill="#55ff55"/>
<rect x="39.23" y="47" width="5.32" height="1" fill="#55ff55"/>
<rect x="362.42" y="47" width="10.08" height="1" fill="#55ff55"/>
<rect x="39.23" y="48" width="5.32" height="1" fill="#55ff55"/>
<rect x="362.42" y="48" width="10.08" height="1" fill="#55ff55"/>
<rect x="39.23" y="49" width="5.32" height="1" fill="#55ff55"/>
<rect x="362.42" y="49" width="10.08" height="1" fill="#55ff55"/>
<rect x="39.23" y="50" width="5.32" height="1" fill="#55ff55"/>
<rect x="362.42" y="50" width="10.08" height="1" fill="#55ff55"/>
<rect x="39.23" y="51" width="5.32" height="1" fill="#55ff55"/>
<rect x="362.42" y="51" width="10.08" height="1" fill="#55ff55"/>
<rect x="39.23" y="52" width="5.32" height="1" fill="#55ff55"/>
<rect x="362.42" y="52" width="10.08" height="1" fill="#55ff55"/>
<rect x="39.23" y="53" width="5.32" height="1" fill="#55ff55"/>
<rect x="362.42" y="53" width="10.08" height="1" fill="#55ff55"/>
<rect x="39.23" y="54" width="5.32" height="1" fill="#55ff55"/>
<rect x="362.42" y="54" width="10.08" height="1" fill="#55ff55"/>
<rect x="39.23" y="55" width="5.32" height="1" fill="#55ff55"/>
<rect x="362.42" y="55" width="10.08" height="1" fill="#55ff55"/>
<rect x="39.23" y="56" width="5.32" height="1" fill="#55ff55"/>
<rect x="362.42" y="56" width="10.08" height="1" fill="#55ff55"/>
<rect x="39.23" y="57" width="5.32" height="1" fill="#55ff55"/>
<rect x="362.42" y="57" width="10.08" height="1" fill="#55ff55"/>
<rect x="39.23" y="58" width="5.32" height="1" fill="#55ff55"/>
<rect x="362.42" y="58" width="10.08" height="1" fill="#55ff55"/>
<rect x="39.23" y="59" width="3.99" height="1" fill="#55ff55"/>
<rect x="362.42" y="59" width="10.08" height="1" fill="#55ff55"/>
<rect x="39.23" y="60" width="3.99" height="1" fill="#55ff55"/>
<rect x="362.42" y="60" width="10.08" height="1" fill="#55ff55"/>
<rect x="39.23" y="61" width="3.99" height="1" fill="#55ff55"/>
<rect x="362.42" y="61" width="10.08" height="1" fill="#55ff55"/>
<rect x="39.23" y="62" width="3.99" height="1" fill="#55ff55"/>
<rect x="362.42" y="62" width="10.08" height="1" fill="#55ff55"/>
<rect x="39.23" y="63" width="3.99" height="1" fill="#55ff55"/>
<rect x="362.42" y="63" width="10.08" height="1" fill="#55ff55"/>
<rect x="39.23" y="64" width="3.99" height="1" fill="#55ff55"/>
<rect x="362.42" y="64" width="10.08" height="1" fill="#55ff55"/>
<rect x="39.23" y="65" width="3.99" height="1" fill="#55ff55"/>
<rect x="362.42" y="65" width="10.08" height="1" fill="#55ff55"/>
<rect x="39.23" y="66" width="3.99" height="1" fill="#55ff55"/>
<rect x="362.42" y="66" width="10.08" height="1" fill="#55ff55"/>
<rect x="39.23" y="67" width="3.99" height="1" fill="#55ff55"/>
<rect x="362.42" y="67" width="10.08" height="1" fill="#55ff55"/>
<rect x="39.23" y="68" width="3.99" height="1" fill="#55ff55"/>
<rect x="362.42" y="68" width="10.08" height="1" fill="#55ff55"/>
<rect x="39.23" y="69" width="3.99" height="1" fill="#55ff55"/>
<rect x="362.42" y="69" width="10.08" height="1" fill="#55ff55"/>
<rect x="39.23" y="70" width="3.99" height="1" fill="#55ff55"/>
<rect x="362.42" y="70" width="10.08" height="1" fill="#55ff55"/>
<rect x="39.23" y="71" width="3.99" height="1" fill="#55ff55"/>
<rect x="362.42" y="71" width="10.08" height="1" fill="#55ff55"/>
<rect x="39.23" y="72" width="3.99" height="1" fill="#55ff55"/>
<rect x="362.42" y="72" width="10.08" height="1" fill="#55ff55"/>
<rect x="39.23" y="73" width="3.99" height="1" fill="#55ff55"/>
<rect x="362.42" y="73" width="10.08" height="1" fill="#55ff55"/>
<rect x="39.23" y="74" width="3.99" height="1" fill="#55ff55"/>
<rect x="362.42" y="74" width="10.08" height="1" fill="#55ff55"/>
<rect x="39.23" y="75" width="3.99" height="1" fill="#55ff55"/>
<rect x="362.42" y="75" width="10.08" height="1" fill="#55ff55"/>
<rect x="39.23" y="76" width="3.99" height="1" fill="#55ff55"/>
<rect x="362.42" y="76" width="10.08" height="1" fill="#55ff55"/>
<rect x="39.23" y="77" width="3.99" height="1" fill="#55ff55"/>
<rect x="362.42" y="77" width="10.08" height="1" fill="#55ff55"/>
<rect x="39.23" y="78" width="3.99" height="1" fill="#55ff55"/>
<rect x="362.42" y="78" width="10.08" height="1" fill="#55ff55"/>
<rect x="39.23" y="79" width="3.99" height="1" fill="#55ff55"/>
<rect x="362.42" y="79" width="10.08" height="1" fill="#55ff55"/>
<rect x="39.23" y="80" width="3.99" height="1" fill="#55ff55"/>
<rect x="362.42" y="80" width="10.08" height="1" fill="#55ff55"/>
<rect x="39.23" y="81" width="3.99" height="1" fill="#55ff55"/>
<rect x="362.42" y="81" width="10.08" height="1" fill="#55ff55"/>
<rect x="39.23" y="82" width="3.99" height="1" fill="#55ff55"/>
<rect x="362.42" y="82" width="10.08" height="1" fill="#55ff55"/>
<rect x="39.23" y="83" width="3.99" height="1" fill="#55ff55"/>
<rect x="362.42" y="83" width="10.08" height="1" fill="#55ff55"/>
<rect x="39.23" y="84" width="3.99" height="1" fill="#55ff55"/>
<rect x="362.42" y="84" width="10.08" height="1" fill="#55ff55"/>
<rect x="39.23" y="85" width="3.99" height="1" fill="#55ff55"/>
<rect x="362.42" y="85" width="10.08" height="1" fill="#55ff55"/>
<rect x="39.23" y="86" width="3.99" height="1" fill="#55ff55"/>
<rect x="362.42" y="86" width="10.08" height="1" fill="#55ff55"/>
<rect x="39.23" y="87" width="3.99" height="1" fill="#55ff55"/>
<rect x="362.42" y="87" width="10.08" height="1" fill="#55ff55"/>
<rect x="39.23" y="88" width="3.99" height="1" fill="#55ff55"/>
<rect x="362.42" y="88" width="10.08" height="1" fill="#55ff55"/>
<rect x="39.23" y="89" width="3.99" height="1" fill="#55ff55"/>
<rect x="362.42" y="89" width="10.08" height="1" fill="#55ff55"/>
<rect x="39.23" y="90" width="3.99" height="1" fill="#55ff55"/>
<rect x="362.42" y="90" width="10.08" height="1" fill="#55ff55"/>
<rect x="39.23" y="91" width="3.99" height="1" fill="#55ff55"/>
<rect x="362.42" y="91" width="10.08" height="1" fill="#55ff55"/>
<rect x="39.23" y="92" width="3.99" height="1" fill="#55ff55"/>
<rect x="362.42" y="92" width="10.08" height="1" fill="#55ff55"/>
<rect x="39.23" y="93" width="3.99" height="1" fill="#55ff55"/>
<rect x="362.42" y="93" width="10.08" height="1" fill="#55ff55"/>
<rect x="39.23" y="94" width="3.99" height="1" fill="#55ff55"/>
<rect x="362.42" y="94" width="10.08" height="1" fill="#55ff55"/>
<rect x="39.23" y="95" width="3.99" height="1" fill="#55ff55"/>
<rect x="362.42" y="95" width="10.08" height="1" fill="#55ff55"/>
<rect x="39.23" y="96" width="3.99" height="1" fill="#55ff55"/>
<rect x="362.42" y="96" width="10.08" height="1" fill="#55ff55"/>
<rect x="39.23" y="97" width="3.99" height="1" fill="#55ff55"/>
<rect x="362.42" y="97" width="10.08" height="1" fill="#55ff55"/>
<rect x="39.23" y="98" width="3.99" height="1" fill="#55ff55"/>
<rect x="362.42" y="98" width="10.08" height="1" fill="#55ff55"/>
<rect x="39.23" y="99" width="3.99" height="1" fill="#55ff55"/>
<rect x="362.42" y="99" width="10.08" height="1" fill="#55ff55"/>
<rect x="39.23" y="100" width="3.99" height="1" fill="#55ff55"/>
<rect x="362.42" y="100" width="10.08" height="1" fill="#55ff55"/>
<rect x="39.23" y="101" width="3.99" height="1" fill="#55ff55"/>
<rect x="362.42" y="101" width="10.08" height="1" fill="#55ff55"/>
<rect x="39.23" y="102" width="3.99" height="1" fill="#55ff55"/>
<rect x="361.09" y="102" width="11.41" height="1" fill="#55ff55"/>
<rect x="39.23" y="103" width="3.99" height="1" fill="#55ff55"/>
<rect x="361.09" y="103" width="11.41" height="1" fill="#55ff55"/>
<rect x="39.23" y="104" width="3.99" height="1" fill="#55ff55"/>
<rect x="361.09" y="104" width="11.41" height="1" fill="#55ff55"/>
<rect x="39.23" y="105" width="3.99" height="1" fill="#55ff55"/>
<rect x="361.09" y="105" width="11.41" height="1" fill="#55ff55"/>
<rect x="39.23" y="106" width="3.99" height="1" fill="#55ff55"/>
<rect x="361.09" y="106" width="11.41" height="1" fill="#55ff55"/>
<rect x="39.23" y="107" width="3.99" height="1" fill="#55ff55"/>
<rect x="361.09" y="107" width="11.41" height="1" fill="#55ff55"/>
<rect x="39.23" y="108" width="3.99" height="1" fill="#55ff55"/>
<rect x="361.09" y="108" width="11.41" height="1" fill="#55ff55"/>
<rect x="39.23" y="109" width="3.99" height="1" fill="#55ff55"/>
<rect x="361.09" y="109" width="11.41" height="1" fill="#55ff55"/>
<rect x="39.23" y="110" width="3.99" height="1" fill="#55ff55"/>
<rect x="361.09" y="110" width="11.41" height="1" fill="#55ff55"/>
<rect x="39.23" y="111" width="3.99" height="1" fill="#55ff55"/>
<rect x="361.09" y="111" width="11.41" height="1" fill="#55ff55"/>
<rect x="39.23" y="112" width="3.99" height="1" fill="#55ff55"/>
<rect x="361.09" y="112" width="11.41" height="1" fill="#55ff55"/>
<rect x="39.23" y="113" width="3.99" height="1" fill="#55ff55"/>
<rect x="361.09" y="113" width="11.41" height="1" fill="#55ff55"/>
<rect x="39.23" y="114" width="3.99" height="1" fill="#55ff55"/>
<rect x="361.09" y="114" width="11.41" height="1" fill="#55ff55"/>
<rect x="39.23" y="115" width="3.99" height="1" fill="#55ff55"/>
<rect x="361.09" y="115" width="11.41" height="1" fill="#55ff55"/>
<rect x="39.23" y="116" width="3.99" height="1" fill="#55ff55"/>
<rect x="361.09" y="116" width="11.41" height="1" fill="#55ff55"/>
<rect x="39.23" y="117" width="3.99" height="1" fill="#55ff55"/>
<rect x="361.09" y="117" width="11.41" height="1" fill="#55ff55"/>
<rect x="39.23" y="118" width="2.66" height="1" fill="#55ff55"/>
<rect x="361.09" y="118" width="11.41" height="1" fill="#55ff55"/>
<rect x="39.23" y="119" width="2.66" height="1" fill="#55ff55"/>
<rect x="361.09" y="119" width="11.41" height="1" fill="#55ff55"/>
<rect x="39.23" y="120" width="2.66" height="1" fill="#55ff55"/>
<rect x="361.09" y="120" width="11.41" height="1" fill="#55ff55"/>
<rect x="39.23" y="121" width="2.66" height="1" fill="#55ff55"/>
<rect x="361.09" y="121" width="11.41" height="1" fill="#55ff55"/>
<rect x="39.23" y="122" width="2.66" height="1" fill="#55ff55"/>
<rect x="361.09" y="122" width="11.41" height="1" fill="#55ff55"/>
<rect x="39.23" y="123" width="2.66" height="1" fill="#55ff55"/>
<rect x="361.09" y="123" width="11.41" height="1" fill="#55ff55"/>
<rect x="39.23" y="124" width="2.66" height="1" fill="#55ff55"/>
<rect x="361.09" y="124" width="11.41" height="1" fill="#55ff55"/>
<rect x="39.23" y="125" width="2.66" height="1" fill="#55ff55"/>
<rect x="361.09" y="125" width="11.41" height="1" fill="#55ff55"/>
<rect x="39.23" y="126" width="2.66" height="1" fill="#55ff55"/>
<rect x="361.09" y="126" width="11.41" height="1" fill="#55ff55"/>
<rect x="39.23" y="127" width="2.66" height="1" fill="#55ff55"/>
<rect x="361.09" y="127" width="11.41" height="1" fill="#55ff55"/>
<rect x="39.23" y="128" width="2.66" height="1" fill="#55ff55"/>
<rect x="361.09" y="128" width="11.41" height="1" fill="#55ff55"/>
<rect x="39.23" y="129" width="2.66" height="1" fill="#55ff55"/>
<rect x="361.09" y="129" width="11.41" height="1" fill="#55ff55"/>
<rect x="39.23" y="130" width="2.66" height="1" fill="#55ff55"/>
<rect x="361.09" y="130" width="11.41" height="1" fill="#55ff55"/>
<rect x="39.23" y="131" width="2.66" height="1" fill="#55ff55"/>
<rect x="361.09" y="131" width="11.41" height="1" fill="#55ff55"/>
<rect x="39.23" y="132" width="2.66" height="1" fill="#55ff55"/>
<rect x="361.09" y="132" width="11.41" height="1" fill="#55ff55"/>
<rect x="39.23" y="133" width="2.66" height="1" fill="#55ff55"/>
<rect x="361.09" y="133" width="11.41" height="1" fill="#55ff55"/>
<rect x="39.23" y="134" width="2.66" height="1" fill="#55ff55"/>
<rect x="361.09" y="134" width="11.41" height="1" fill="#55ff55"/>
<rect x="39.23" y="135" width="2.66" height="1" fill="#55ff55"/>
<rect x="361.09" y="135" width="11.41" height="1" fill="#55ff55"/>
<rect x="39.23" y="136" width="2.66" height="1" fill="#55ff55"/>
<rect x="361.09" y="136" width="11.41" height="1" fill="#55ff55"/>
<rect x="39.23" y="137" width="2.66" height="1" fill="#55ff55"/>
<rect x="361.09" y="137" width="11.41" height="1" fill="#55ff55"/>
<rect x="39.23" y="138" width="2.66" height="1" fill="#55ff55"/>
<rect x="361.09" y="138" width="11.41" height="1" fill="#55ff55"/>
<rect x="39.23" y="139" width="2.66" height="1" fill="#55ff55"/>
<rect x="359.76" y="139" width="12.74" height="1" fill="#55ff55"/>
<rect x="39.23" y="140" width="2.66" height="1" fill="#55ff55"/>
<rect x="359.76" y="140" width="12.74" height="1" fill="#55ff55"/>
<rect x="39.23" y="141" width="2.66" height="1" fill="#55ff55"/>
<rect x="359.76" y="141" width="12.74" height="1" fill="#55ff55"/>
<rect x="39.23" y="142" width="2.66" height="1" fill="#55ff55"/>
<rect x="359.76" y="142" width="12.74" height="1" fill="#55ff55"/>
<rect x="39.23" y="143" width="2.66" height="1" fill="#55ff55"/>
<rect x="359.76" y="143" width="12.74" height="1" fill="#55ff55"/>
<rect x="39.23" y="144" width="2.66" height="1" fill="#55ff55"/>
<rect x="359.76" y="144" width="12.74" height="1" fill="#55ff55"/>
<rect x="39.23" y="145" width="2.66" height="1" fill="#55ff55"/>
<rect x="359.76" y="145" width="12.74" height="1" fill="#55ff55"/>
<rect x="39.23" y="146" width="2.66" height="1" fill="#55ff55"/>
<rect x="359.76" y="146" width="12.74" height="1" fill="#55ff55"/>
<rect x="39.23" y="147" width="2.66" height="1" fill="#55ff55"/>
<rect x="359.76" y="147" width="12.74" height="1" fill="#55ff55"/>
<rect x="39.23" y="148" width="2.66" height="1" fill="#55ff55"/>
<rect x="359.76" y="148" width="12.74" height="1" fill="#55ff55"/>
<rect x="39.23" y="149" width="2.66" height="1" fill="#55ff55"/>
<rect x="359.76" y="149" width="12.74" height="1" fill="#55ff55"/>
<rect x="39.23" y="150" width="2.66" height="1" fill="#55ff55"/>
<rect x="359.76" y="150" width="12.74" height="1" fill="#55ff55"/>
<rect x="39.23" y="151" width="2.66" height="1" fill="#55ff55"/>
<rect x="359.76" y="151" width="12.74" height="1" fill="#55ff55"/>
<rect x="39.23" y="152" width="2.66" height="1" fill="#55ff55"/>
<rect x="359.76" y="152" width="12.74" height="1" fill="#55ff55"/>
<rect x="39.23" y="153" width="2.66" height="1" fill="#55ff55"/>
<rect x="359.76" y="153" width="12.74" height="1" fill="#55ff55"/>
<rect x="39.23" y="154" width="2.66" height="1" fill="#55ff55"/>
<rect x="359.76" y="154" width="12.74" height="1" fill="#55ff55"/>
<rect x="39.23" y="155" width="2.66" height="1" fill="#55ff55"/>
<rect x="359.76" y="155" width="12.74" height="1" fill="#55ff55"/>
<rect x="39.23" y="156" width="2.66" height="1" fill="#55ff55"/>
<rect x="359.76" y="156" width="12.74" height="1" fill="#55ff55"/>
<rect x="39.23" y="157" width="1.33" height="1" fill="#55ff55"/>
<rect x="359.76" y="157" width="12.74" height="1" fill="#55ff55"/>
<rect x="39.23" y="158" width="1.33" height="1" fill="#55ff55"/>
<rect x="358.44" y="158" width="14.06" height="1" fill="#55ff55"/>
<rect x="39.23" y="159" width="1.33" height="1" fill="#55ff55"/>
<rect x="358.44" y="159" width="14.06" height="1" fill="#55ff55"/>
<rect x="39.23" y="160" width="1.33" height="1" fill="#55ff55"/>
<rect x="358.44" y="160" width="14.06" height="1" fill="#55ff55"/>
<rect x="39.23" y="161" width="1.33" height="1" fill="#55ff55"/>
<rect x="358.44" y="161" width="14.06" height="1" fill="#55ff55"/>
<rect x="39.23" y="162" width="1.33" height="1" fill="#55ff55"/>
<rect x="358.44" y="162" width="14.06" height="1" fill="#55ff55"/>
<rect x="39.23" y="163" width="1.33" height="1" fill="#55ff55"/>
<rect x="358.44" y="163" width="14.06" height="1" fill="#55ff55"/>
<rect x="39.23" y="164" width="1.33" height="1" fill="#55ff55"/>
<rect x="358.44" y="164" width="14.06" height="1" fill="#55ff55"/>
<rect x="39.23" y="165" width="1.33" height="1" fill="#55ff55"/>
<rect x="358.44" y="165" width="14.06" height="1" fill="#55ff55"/>
<rect x="39.23" y="166" width="1.33" height="1" fill="#55ff55"/>
<rect x="358.44" y="166" width="14.06" height="1" fill="#55ff55"/>
<rect x="39.23" y="167" width="1.33" height="1" fill="#55ff55"/>
<rect x="358.44" y="167" width="14.06" height="1" fill="#55ff55"/>
<rect x="39.23" y="168" width="1.33" height="1" fill="#55ff55"/>
<rect x="358.44" y="168" width="14.06" height="1" fill="#55ff55"/>
<rect x="39.23" y="169" width="1.33" height="1" fill="#55ff55"/>
<rect x="358.44" y="169" width="14.06" height="1" fill="#55ff55"/>
<rect x="39.23" y="170" width="1.33" height="1" fill="#55ff55"/>
<rect x="357.11" y="170" width="15.39" height="1" fill="#55ff55"/>
<rect x="39.23" y="171" width="1.33" height="1" fill="#55ff55"/>
<rect x="357.11" y="171" width="15.39" height="1" fill="#55ff55"/>
<rect x="39.23" y="172" width="1.33" height="1" fill="#55ff55"/>
<rect x="357.11" y="172" width="15.39" height="1" fill="#55ff55"/>
<rect x="39.23" y="173" width="1.33" height="1" fill="#55ff55"/>
<rect x="357.11" y="173" width="15.39" height="1" fill="#55ff55"/>
<rect x="39.23" y="174" width="1.33" height="1" fill="#55ff55"/>
<rect x="357.11" y="174" width="15.39" height="1" fill="#55ff55"/>
<rect x="39.23" y="175" width="1.33" height="1" fill="#55ff55"/>
<rect x="357.11" y="175" width="15.39" height="1" fill="#55ff55"/>
<rect x="39.23" y="176" width="1.33" height="1" fill="#55ff55"/>
<rect x="357.11" y="176" width="15.39" height="1" fill="#55ff55"/>
<rect x="39.23" y="177" width="1.33" height="1" fill="#55ff55"/>
<rect x="357.11" y="177" width="15.39" height="1" fill="#55ff55"/>
<rect x="39.23" y="178" width="1.33" height="1" fill="#55ff55"/>
<rect x="357.11" y="178" width="15.39" height="1" fill="#55ff55"/>
<rect x="39.23" y="179" width="1.33" height="1" fill="#55ff55"/>
<rect x="355.77" y="179" width="16.73" height="1" fill="#55ff55"/>
<rect x="39.23" y="180" width="1.33" height="1" fill="#55ff55"/>
<rect x="355.77" y="180" width="16.73" height="1" fill="#55ff55"/>
<rect x="39.23" y="181" width="1.33" height="1" fill="#55ff55"/>
<rect x="355.77" y="181" width="16.73" height="1" fill="#55ff55"/>
<rect x="39.23" y="182" width="1.33" height="1" fill="#55ff55"/>
<rect x="355.77" y="182" width="16.73" height="1" fill="#55ff55"/>
<rect x="39.23" y="183" width="1.33" height="1" fill="#55ff55"/>
<rect x="355.77" y="183" width="16.73" height="1" fill="#55ff55"/>
<rect x="39.23" y="184" width="1.33" height="1" fill="#55ff55"/>
<rect x="355.77" y="184" width="16.73" height="1" fill="#55ff55"/>
<rect x="39.23" y="185" width="1.33" height="1" fill="#55ff55"/>
<rect x="354.44" y="185" width="18.06" height="1" fill="#55ff55"/>
<rect x="39.23" y="186" width="1.33" height="1" fill="#55ff55"/>
<rect x="354.44" y="186" width="18.06" height="1" fill="#55ff55"/>
<rect x="39.23" y="187" width="1.33" height="1" fill="#55ff55"/>
<rect x="354.44" y="187" width="18.06" height="1" fill="#55ff55"/>
<rect x="39.23" y="188" width="1.33" height="1" fill="#55ff55"/>
<rect x="354.44" y="188" width="18.06" height="1" fill="#55ff55"/>
<rect x="39.23" y="189" width="1.33" height="1" fill="#55ff55"/>
<rect x="354.44" y="189" width="18.06" height="1" fill="#55ff55"/>
<rect x="39.23" y="190" width="1.33" height="1" fill="#55ff55"/>
<rect x="353.12" y="190" width="19.38" height="1" fill="#55ff55"/>
<rect x="39.23" y="191" width="1.33" height="1" fill="#55ff55"/>
<rect x="353.12" y="191" width="19.38" height="1" fill="#55ff55"/>
<rect x="39.23" y="192" width="1.33" height="1" fill="#55ff55"/>
<rect x="353.12" y="192" width="19.38" height="1" fill="#55ff55"/>
<rect x="39.23" y="193" width="1.33" height="1" fill="#55ff55"/>
<rect x="351.78" y="193" width="20.72" height="1" fill="#55ff55"/>
<rect x="39.23" y="194" width="1.33" height="1" fill="#55ff55"/>
<rect x="351.78" y="194" width="20.72" height="1" fill="#55ff55"/>
<rect x="39.23" y="195" width="1.33" height="1" fill="#55ff55"/>
<rect x="351.78" y="195" width="20.72" height="1" fill="#55ff55"/>
<rect x="39.23" y="196" width="1.33" height="1" fill="#55ff55"/>
<rect x="351.78" y="196" width="20.72" height="1" fill="#55ff55"/>
<rect x="39.23" y="197" width="1.33" height="1" fill="#55ff55"/>
<rect x="350.45" y="197" width="22.05" height="1" fill="#55ff55"/>
<rect x="350.45" y="198" width="21.28" height="1" fill="#55ff55"/>
<rect x="349.12" y="199" width="22.61" height="1" fill="#55ff55"/>
<rect x="349.12" y="200" width="22.61" height="1" fill="#55ff55"/>
<rect x="349.12" y="201" width="22.61" height="1" fill="#55ff55"/>
<rect x="347.80" y="202" width="23.94" height="1" fill="#55ff55"/>
<rect x="347.80" y="203" width="23.94" height="1" fill="#55ff55"/>
<rect x="346.46" y="204" width="25.27" height="1" fill="#55ff55"/>
<rect x="346.46" y="205" width="25.27" height="1" fill="#55ff55"/>
<rect x="345.13" y="206" width="26.60" height="1" fill="#55ff55"/>
<rect x="345.13" y="207" width="26.60" height="1" fill="#55ff55"/>
<rect x="343.81" y="208" width="27.93" height="1" fill="#55ff55"/>
<rect x="342.47" y="209" width="29.26" height="1" fill="#55ff55"/>
<rect x="341.14" y="210" width="30.59" height="1" fill="#55ff55"/>
<rect x="341.14" y="211" width="30.59" height="1" fill="#55ff55"/>
<rect x="339.81" y="212" width="31.92" height="1" fill="#55ff55"/>
<rect x="338.48" y="213" width="31.92" height="1" fill="#55ff55"/>
<rect x="337.15" y="214" width="33.25" height="1" fill="#55ff55"/>
<rect x="335.82" y="215" width="34.58" height="1" fill="#55ff55"/>
<rect x="334.50" y="216" width="35.91" height="1" fill="#55ff55"/>
<rect x="331.83" y="217" width="37.24" height="1" fill="#55ff55"/>
<rect x="330.50" y="218" width="38.57" height="1" fill="#55ff55"/>
<rect x="329.17" y="219" width="38.57" height="1" fill="#55ff55"/>
<rect x="326.51" y="220" width="41.23" height="1" fill="#55ff55"/>
<rect x="323.85" y="221" width="42.56" height="1" fill="#55ff55"/>
<rect x="321.19" y="222" width="45.22" height="1" fill="#55ff55"/>
<rect x="318.53" y="223" width="46.55" height="1" fill="#55ff55"/>
<rect x="314.55" y="224" width="49.21" height="1" fill="#55ff55"/>
<rect x="311.88" y="225" width="49.21" height="1" fill="#55ff55"/>
<rect x="307.89" y="226" width="51.87" height="1" fill="#55ff55"/>
<rect x="303.90" y="227" width="53.20" height="1" fill="#55ff55"/>
<rect x="298.58" y="228" width="57.19" height="1" fill="#55ff55"/>
<rect x="293.26" y="229" width="58.52" height="1" fill="#55ff55"/>
</g>
<g clip-path="url(#cp)">
<path d="M239.92,230.10 L243.63,229.54 L247.15,228.99 L250.48,228.43 L253.64,227.87 L256.63,227.32 L259.47,226.76 L262.15,226.20 L264.70,225.65 L267.12,225.09 L269.42,224.53 L271.61,223.98 L273.71,223.42 L275.70,222.87 L277.59,222.31 L279.40,221.75 L281.11,221.20 L282.75,220.64 L284.32,220.08 L285.81,219.53 L287.23,218.97 L288.60,218.41 L289.90,217.86 L291.14,217.30 L292.34,216.74 L293.48,216.19 L294.58,215.63 L295.63,215.07 L296.64,214.52 L297.61,213.96 L298.54,213.40 L299.43,212.85 L300.31,212.29 L301.17,211.74 L302.00,211.18 L302.80,210.62 L303.57,210.07 L304.31,209.51 L305.03,208.95 L305.73,208.40 L306.40,207.84 L307.05,207.28 L307.68,206.73 L308.28,206.17 L308.87,205.61 L309.44,205.06 L310.00,204.50 L310.53,203.94 L311.05,203.39 L311.55,202.83 L312.04,202.27 L312.52,201.72 L312.98,201.16 L313.43,200.60 L313.86,200.05 L314.29,199.49 L314.70,198.94 L315.10,198.38 L315.49,197.82 L315.87,197.27 L316.24,196.71 L316.60,196.15 L316.95,195.60 L317.29,195.04 L317.63,194.48 L317.95,193.93 L318.27,193.37 L318.58,192.81 L318.88,192.26 L319.17,191.70 L319.46,191.14 L319.74,190.59 L320.02,190.03 L320.29,189.47 L320.55,188.92 L320.81,188.36 L321.06,187.81 L321.30,187.25 L321.54,186.69 L321.77,186.14 L322.00,185.58 L322.23,185.02 L322.45,184.47 L322.66,183.91 L322.88,183.35 L323.08,182.80 L323.29,182.24 L323.49,181.68 L323.69,181.13 L323.88,180.57 L324.07,180.01 L324.26,179.46 L324.44,178.90 L324.62,178.34 L324.79,177.79 L324.97,177.23 L325.14,176.67 L325.30,176.12 L325.46,175.56 L325.62,175.01 L325.78,174.45 L325.94,173.89 L326.09,173.34 L326.24,172.78 L326.38,172.22 L326.53,171.67 L326.67,171.11 L326.81,170.55 L326.94,170.00 L327.08,169.44 L327.21,168.88 L327.34,168.33 L327.47,167.77 L327.59,167.21 L327.72,166.66 L327.84,166.10 L327.96,165.54 L328.08,164.99 L328.19,164.43 L328.31,163.87 L328.42,163.32 L328.53,162.76 L328.64,162.21 L328.74,161.65 L328.85,161.09 L328.95,160.54 L329.06,159.98 L329.16,159.42 L329.26,158.87 L329.36,158.31 L329.45,157.75 L329.55,157.20 L329.64,156.64 L329.73,156.08 L329.83,155.53 L329.92,154.97 L330.00,154.41 L330.09,153.86 L330.18,153.30 L330.26,152.74 L330.35,152.19 L330.43,151.63 L330.51,151.08 L330.59,150.52 L330.67,149.96 L330.75,149.41 L330.83,148.85 L330.90,148.29 L330.98,147.74 L331.05,147.18 L331.13,146.62 L331.20,146.07 L331.27,145.51 L331.34,144.95 L331.41,144.40 L331.48,143.84 L331.55,143.28 L331.61,142.73 L331.68,142.17 L331.74,141.61 L331.81,141.06 L331.87,140.50 L331.94,139.94 L332.00,139.39 L332.06,138.83 L332.12,138.28 L332.18,137.72 L332.24,137.16 L332.30,136.61 L332.36,136.05 L332.41,135.49 L332.47,134.94 L332.53,134.38 L332.58,133.82 L332.64,133.27 L332.69,132.71 L332.74,132.15 L332.80,131.60 L332.85,131.04 L332.90,130.48 L332.95,129.93 L333.00,129.37 L333.05,128.81 L333.10,128.26 L333.15,127.70 L333.20,127.15 L333.24,126.59 L333.29,126.03 L333.34,125.48 L333.38,124.92 L333.43,124.36 L333.48,123.81 L333.53,123.25 L333.58,122.69 L333.62,122.14 L333.67,121.58 L333.72,121.02 L333.76,120.47 L333.81,119.91 L333.85,119.35 L333.90,118.80 L333.94,118.24 L333.98,117.68 L334.03,117.13 L334.07,116.57 L334.11,116.01 L334.15,115.46 L334.19,114.90 L334.23,114.35 L334.27,113.79 L334.31,113.23 L334.35,112.68 L334.39,112.12 L334.43,111.56 L334.47,111.01 L334.51,110.45 L334.55,109.89 L334.59,109.34 L334.62,108.78 L334.66,108.22 L334.70,107.67 L334.73,107.11 L334.77,106.55 L334.80,106.00 L334.84,105.44 L334.87,104.88 L334.91,104.33 L334.94,103.77 L334.98,103.22 L335.01,102.66 L335.04,102.10 L335.08,101.55 L335.11,100.99 L335.14,100.43 L335.18,99.88 L335.21,99.32 L335.24,98.76 L335.27,98.21 L335.30,97.65 L335.33,97.09 L335.37,96.54 L335.40,95.98 L335.43,95.42 L335.46,94.87 L335.49,94.31 L335.52,93.75 L335.54,93.20 L335.57,92.64 L335.60,92.08 L335.63,91.53 L335.66,90.97 L335.69,90.42 L335.72,89.86 L335.74,89.30 L335.77,88.75 L335.80,88.19 L335.83,87.63 L335.85,87.08 L335.88,86.52 L335.91,85.96 L335.93,85.41 L335.96,84.85 L335.98,84.29 L336.01,83.74 L336.03,83.18 L336.06,82.62 L336.08,82.07 L336.11,81.51 L336.13,80.95 L336.16,80.40 L336.18,79.84 L336.21,79.28 L336.23,78.73 L336.25,78.17 L336.28,77.62 L336.30,77.06 L336.33,76.50 L336.35,75.95 L336.37,75.39 L336.39,74.83 L336.42,74.28 L336.44,73.72 L336.46,73.16 L336.48,72.61 L336.50,72.05 L336.53,71.49 L336.55,70.94 L336.57,70.38 L336.59,69.82 L336.61,69.27 L336.63,68.71 L336.65,68.15 L336.67,67.60 L336.70,67.04 L336.72,66.49 L336.74,65.93 L336.76,65.37 L336.78,64.82 L336.80,64.26 L336.82,63.70 L336.84,63.15 L336.85,62.59 L336.87,62.03 L336.89,61.48 L336.91,60.92 L336.93,60.36 L336.95,59.81 L336.97,59.25 L336.99,58.69 L337.01,58.14 L337.02,57.58 L337.04,57.02 L337.06,56.47 L337.08,55.91 L337.10,55.35 L337.11,54.80 L337.13,54.24 L337.15,53.69 L337.17,53.13 L337.18,52.57 L337.20,52.02 L337.22,51.46 L337.23,50.90 L337.25,50.35 L337.27,49.79 L337.29,49.23 L337.30,48.68 L337.32,48.12 L337.33,47.56 L337.35,47.01 L337.37,46.45 L337.38,45.89 L337.40,45.34 L337.41,44.78 L337.43,44.22 L337.45,43.67 L337.46,43.11 L337.48,42.56 L337.49,42.00 L337.51,41.44 L337.52,40.89 L337.54,40.33 L337.55,39.77 L337.57,39.22 L337.58,38.66 L337.60,38.10 L337.61,37.55 L337.62,36.99 L337.64,36.43 L337.65,35.88 L337.67,35.32 L337.68,34.76 L337.70,34.21 L337.71,33.65 L337.72,33.09 L337.74,32.54 L337.75,31.98 L337.76,31.42 L337.78,30.87 L337.79,30.31 L337.81,29.76 L337.82,29.20 L337.83,28.64 L337.84,28.09 L337.86,27.53 L337.87,26.97 L337.88,26.42 L337.90,25.86 L337.91,25.30 L337.92,24.75 L337.93,24.19 L337.95,23.63 L337.96,23.08 L337.97,22.52 L337.98,21.96 L338.00,21.41 L338.01,20.85 L338.02,20.29 L338.03,19.74 L338.05,19.18 L338.06,18.63 L338.07,18.07 L338.08,17.51 L338.09,16.96 L338.10,16.40 L338.12,15.84 L338.13,15.29 L338.14,14.73 L338.15,14.17 L338.16,13.62 L338.17,13.06 L338.18,12.50 L338.20,11.95 L338.21,11.39 L338.22,10.83 L338.23,10.28 L338.24,9.72 L338.25,9.16 L338.26,8.61 L338.27,8.05 L338.28,7.49" fill="none" stroke="#ff0000" stroke-width="1.7"/>
<path d="M368.93,230.10 L369.69,229.54 L370.32,228.99 L370.85,228.43 L371.28,227.87 L371.63,227.32 L371.90,226.76 L372.11,226.20 L372.25,225.65 L372.34,225.09 L372.39,224.53" fill="none" stroke="#ff0000" stroke-width="1.7"/>
<path d="M39.90,223.98 L39.93,223.42 L39.99,222.87 L40.08,222.31 L40.19,221.75 L40.32,221.20 L40.47,220.64 L40.63,220.08 L40.81,219.53 L41.00,218.97 L41.20,218.41 L41.41,217.86 L41.62,217.30 L41.85,216.74 L42.07,216.19 L42.30,215.63 L42.53,215.07 L42.77,214.52 L43.01,213.96 L43.25,213.40 L43.48,212.85 L43.72,212.29 L43.95,211.74 L44.18,211.18 L44.41,210.62 L44.64,210.07 L44.86,209.51 L45.09,208.95 L45.31,208.40 L45.53,207.84 L45.75,207.28 L45.97,206.73 L46.18,206.17 L46.39,205.61 L46.60,205.06 L46.81,204.50 L47.01,203.94 L47.21,203.39 L47.41,202.83 L47.61,202.27 L47.80,201.72 L47.99,201.16 L48.18,200.60 L48.37,200.05 L48.55,199.49 L48.73,198.94 L48.91,198.38 L49.08,197.82 L49.26,197.27 L49.43,196.71 L49.60,196.15 L49.76,195.60 L49.93,195.04 L50.09,194.48 L50.25,193.93 L50.41,193.37 L50.56,192.81 L50.72,192.26 L50.87,191.70 L51.02,191.14 L51.16,190.59 L51.31,190.03 L51.45,189.47 L51.59,188.92 L51.73,188.36 L51.87,187.81 L52.00,187.25 L52.14,186.69 L52.27,186.14 L52.40,185.58 L52.53,185.02 L52.65,184.47 L52.78,183.91 L52.90,183.35 L53.02,182.80 L53.14,182.24 L53.26,181.68 L53.37,181.13 L53.48,180.57 L53.60,180.01 L53.71,179.46 L53.82,178.90 L53.92,178.34 L54.03,177.79 L54.14,177.23 L54.24,176.67 L54.34,176.12 L54.44,175.56 L54.54,175.01 L54.64,174.45 L54.74,173.89 L54.84,173.34 L54.93,172.78 L55.03,172.22 L55.12,171.67 L55.21,171.11 L55.30,170.55 L55.39,170.00 L55.48,169.44 L55.57,168.88 L55.65,168.33 L55.74,167.77 L55.82,167.21 L55.91,166.66 L55.99,166.10 L56.07,165.54 L56.15,164.99 L56.23,164.43 L56.31,163.87 L56.39,163.32 L56.46,162.76 L56.54,162.21 L56.62,161.65 L56.69,161.09 L56.77,160.54 L56.84,159.98 L56.91,159.42 L56.98,158.87 L57.05,158.31 L57.12,157.75 L57.19,157.20 L57.26,156.64 L57.33,156.08 L57.40,155.53 L57.46,154.97 L57.53,154.41 L57.59,153.86 L57.66,153.30 L57.72,152.74 L57.78,152.19 L57.85,151.63 L57.91,151.08 L57.97,150.52 L58.03,149.96 L58.09,149.41 L58.15,148.85 L58.21,148.29 L58.27,147.74 L58.33,147.18 L58.38,146.62 L58.44,146.07 L58.50,145.51 L58.55,144.95 L58.61,144.40 L58.66,143.84 L58.72,143.28 L58.77,142.73 L58.82,142.17 L58.88,141.61 L58.93,141.06 L58.98,140.50 L59.03,139.94 L59.08,139.39 L59.13,138.83 L59.18,138.28 L59.23,137.72 L59.28,137.16 L59.33,136.61 L59.38,136.05 L59.43,135.49 L59.47,134.94 L59.52,134.38 L59.57,133.82 L59.61,133.27 L59.66,132.71 L59.71,132.15 L59.75,131.60 L59.80,131.04 L59.84,130.48 L59.88,129.93 L59.93,129.37 L59.97,128.81 L60.01,128.26 L60.06,127.70 L60.10,127.15 L60.14,126.59 L60.18,126.03 L60.23,125.48 L60.27,124.92 L60.30,124.36 L60.34,123.81 L60.38,123.25 L60.42,122.69 L60.45,122.14 L60.49,121.58 L60.53,121.02 L60.56,120.47 L60.60,119.91 L60.64,119.35 L60.67,118.80 L60.71,118.24 L60.74,117.68 L60.78,117.13 L60.81,116.57 L60.84,116.01 L60.88,115.46 L60.91,114.90 L60.94,114.35 L60.98,113.79 L61.01,113.23 L61.04,112.68 L61.08,112.12 L61.11,111.56 L61.14,111.01 L61.17,110.45 L61.20,109.89 L61.23,109.34 L61.26,108.78 L61.29,108.22 L61.32,107.67 L61.36,107.11 L61.39,106.55 L61.41,106.00 L61.44,105.44 L61.47,104.88 L61.50,104.33 L61.53,103.77 L61.56,103.22 L61.59,102.66 L61.62,102.10 L61.65,101.55 L61.67,100.99 L61.70,100.43 L61.73,99.88 L61.76,99.32 L61.78,98.76 L61.81,98.21 L61.84,97.65 L61.86,97.09 L61.89,96.54 L61.92,95.98 L61.94,95.42 L61.97,94.87 L61.99,94.31 L62.02,93.75 L62.04,93.20 L62.07,92.64 L62.09,92.08 L62.12,91.53 L62.14,90.97 L62.17,90.42 L62.19,89.86 L62.22,89.30 L62.24,88.75 L62.27,88.19 L62.29,87.63 L62.31,87.08 L62.34,86.52 L62.36,85.96 L62.38,85.41 L62.41,84.85 L62.43,84.29 L62.45,83.74 L62.47,83.18 L62.50,82.62 L62.52,82.07 L62.54,81.51 L62.56,80.95 L62.59,80.40 L62.61,79.84 L62.63,79.28 L62.65,78.73 L62.67,78.17 L62.69,77.62 L62.71,77.06 L62.74,76.50 L62.76,75.95 L62.78,75.39 L62.80,74.83 L62.82,74.28 L62.84,73.72 L62.86,73.16 L62.88,72.61 L62.90,72.05 L62.92,71.49 L62.94,70.94 L62.96,70.38 L62.98,69.82 L63.00,69.27 L63.02,68.71 L63.04,68.15 L63.06,67.60 L63.07,67.04 L63.09,66.49 L63.11,65.93 L63.13,65.37 L63.15,64.82 L63.17,64.26 L63.19,63.70 L63.20,63.15 L63.22,62.59 L63.24,62.03 L63.26,61.48 L63.28,60.92 L63.29,60.36 L63.31,59.81 L63.33,59.25 L63.35,58.69 L63.37,58.14 L63.38,57.58 L63.40,57.02 L63.42,56.47 L63.43,55.91 L63.45,55.35 L63.47,54.80 L63.48,54.24 L63.50,53.69 L63.52,53.13 L63.53,52.57 L63.55,52.02 L63.57,51.46 L63.58,50.90 L63.60,50.35 L63.62,49.79 L63.63,49.23 L63.65,48.68 L63.66,48.12 L63.68,47.56 L63.70,47.01 L63.71,46.45 L63.73,45.89 L63.74,45.34 L63.76,44.78 L63.77,44.22 L63.79,43.67 L63.80,43.11 L63.82,42.56 L63.83,42.00 L63.85,41.44 L63.86,40.89 L63.88,40.33 L63.89,39.77 L63.91,39.22 L63.92,38.66 L63.94,38.10 L63.95,37.55 L63.97,36.99 L63.98,36.43 L64.00,35.88 L64.01,35.32 L64.02,34.76 L64.04,34.21 L64.05,33.65 L64.07,33.09 L64.08,32.54 L64.09,31.98 L64.11,31.42 L64.12,30.87 L64.13,30.31 L64.15,29.76 L64.16,29.20 L64.18,28.64 L64.19,28.09 L64.20,27.53 L64.22,26.97 L64.23,26.42 L64.24,25.86 L64.25,25.30 L64.27,24.75 L64.28,24.19 L64.29,23.63 L64.31,23.08 L64.32,22.52 L64.33,21.96 L64.34,21.41 L64.36,20.85 L64.37,20.29 L64.38,19.74 L64.39,19.18 L64.41,18.63 L64.42,18.07 L64.43,17.51 L64.44,16.96 L64.46,16.40 L64.47,15.84 L64.48,15.29 L64.49,14.73 L64.50,14.17 L64.52,13.62 L64.53,13.06 L64.54,12.50 L64.55,11.95 L64.56,11.39 L64.58,10.83 L64.59,10.28 L64.60,9.72 L64.61,9.16 L64.62,8.61 L64.63,8.05 L64.64,7.49" fill="none" stroke="#ff0000" stroke-width="1.7"/>
<path d="M259.99,230.10 L263.64,229.54 L267.09,228.99 L270.35,228.43 L273.43,227.87 L276.35,227.32 L279.11,226.76 L281.72,226.20 L284.19,225.65 L286.54,225.09 L288.76,224.53 L290.86,223.98 L292.86,223.42 L294.76,222.87 L296.57,222.31 L298.28,221.75 L299.92,221.20 L301.47,220.64 L302.96,220.08 L304.37,219.53 L305.72,218.97 L307.01,218.41 L308.24,217.86 L309.41,217.30 L310.54,216.74 L311.62,216.19 L312.65,215.63 L313.64,215.07 L314.59,214.52 L315.51,213.96 L316.38,213.40 L317.23,212.85 L318.04,212.29 L318.81,211.74 L319.57,211.18 L320.29,210.62 L320.98,210.07 L321.66,209.51 L322.30,208.95 L322.93,208.40 L323.53,207.84 L324.12,207.28 L324.68,206.73 L325.23,206.17 L325.76,205.61 L326.27,205.06 L326.76,204.50 L327.24,203.94 L327.71,203.39 L328.16,202.83 L328.60,202.27 L329.02,201.72 L329.43,201.16 L329.83,200.60 L330.22,200.05 L330.60,199.49 L330.96,198.94 L331.32,198.38 L331.67,197.82 L332.01,197.27 L332.33,196.71 L332.66,196.15 L332.97,195.60 L333.27,195.04 L333.57,194.48 L333.86,193.93 L334.14,193.37 L334.41,192.81 L334.68,192.26 L334.94,191.70 L335.20,191.14 L335.45,190.59 L335.69,190.03 L335.93,189.47 L336.16,188.92 L336.39,188.36 L336.61,187.81 L336.83,187.25 L337.04,186.69 L337.25,186.14 L337.45,185.58 L337.65,185.02 L337.84,184.47 L338.03,183.91 L338.22,183.35 L338.40,182.80 L338.58,182.24 L338.76,181.68 L338.93,181.13 L339.10,180.57 L339.26,180.01 L339.43,179.46 L339.58,178.90 L339.74,178.34 L339.89,177.79 L340.04,177.23 L340.19,176.67 L340.34,176.12 L340.48,175.56 L340.62,175.01 L340.75,174.45 L340.89,173.89 L341.02,173.34 L341.15,172.78 L341.28,172.22 L341.40,171.67 L341.53,171.11 L341.65,170.55 L341.77,170.00 L341.88,169.44 L342.00,168.88 L342.11,168.33 L342.22,167.77 L342.33,167.21 L342.44,166.66 L342.55,166.10 L342.65,165.54 L342.76,164.99 L342.86,164.43 L342.96,163.87 L343.05,163.32 L343.15,162.76 L343.25,162.21 L343.34,161.65 L343.43,161.09 L343.52,160.54 L343.61,159.98 L343.70,159.42 L343.79,158.87 L343.87,158.31 L343.96,157.75 L344.04,157.20 L344.12,156.64 L344.21,156.08 L344.29,155.53 L344.36,154.97 L344.44,154.41 L344.52,153.86 L344.59,153.30 L344.67,152.74 L344.74,152.19 L344.81,151.63 L344.89,151.08 L344.96,150.52 L345.03,149.96 L345.10,149.41 L345.16,148.85 L345.23,148.29 L345.30,147.74 L345.36,147.18 L345.43,146.62 L345.49,146.07 L345.55,145.51 L345.62,144.95 L345.68,144.40 L345.74,143.84 L345.80,143.28 L345.86,142.73 L345.92,142.17 L345.97,141.61 L346.03,141.06 L346.09,140.50 L346.14,139.94 L346.20,139.39 L346.25,138.83 L346.31,138.28 L346.36,137.72 L346.41,137.16 L346.46,136.61 L346.52,136.05 L346.57,135.49 L346.62,134.94 L346.67,134.38 L346.72,133.82 L346.76,133.27 L346.81,132.71 L346.86,132.15 L346.91,131.60 L346.95,131.04 L347.00,130.48 L347.04,129.93 L347.09,129.37 L347.13,128.81 L347.18,128.26 L347.22,127.70 L347.27,127.15 L347.31,126.59 L347.35,126.03 L347.39,125.48 L347.43,124.92 L347.48,124.36 L347.52,123.81 L347.56,123.25 L347.60,122.69 L347.64,122.14 L347.67,121.58 L347.71,121.02 L347.75,120.47 L347.79,119.91 L347.83,119.35 L347.86,118.80 L347.90,118.24 L347.94,117.68 L347.97,117.13 L348.01,116.57 L348.04,116.01 L348.08,115.46 L348.11,114.90 L348.15,114.35 L348.18,113.79 L348.22,113.23 L348.25,112.68 L348.28,112.12 L348.32,111.56 L348.35,111.01 L348.38,110.45 L348.41,109.89 L348.45,109.34 L348.48,108.78 L348.51,108.22 L348.54,107.67 L348.57,107.11 L348.60,106.55 L348.63,106.00 L348.66,105.44 L348.69,104.88 L348.72,104.33 L348.75,103.77 L348.78,103.22 L348.80,102.66 L348.83,102.10 L348.86,101.55 L348.89,100.99 L348.92,100.43 L348.94,99.88 L348.97,99.32 L349.00,98.76 L349.03,98.21 L349.05,97.65 L349.08,97.09 L349.10,96.54 L349.13,95.98 L349.16,95.42 L349.18,94.87 L349.21,94.31 L349.23,93.75 L349.26,93.20 L349.28,92.64 L349.31,92.08 L349.33,91.53 L349.35,90.97 L349.38,90.42 L349.40,89.86 L349.42,89.30 L349.45,88.75 L349.47,88.19 L349.49,87.63 L349.52,87.08 L349.54,86.52 L349.56,85.96 L349.58,85.41 L349.61,84.85 L349.63,84.29 L349.65,83.74 L349.67,83.18 L349.69,82.62 L349.71,82.07 L349.74,81.51 L349.76,80.95 L349.78,80.40 L349.80,79.84 L349.82,79.28 L349.84,78.73 L349.86,78.17 L349.88,77.62 L349.90,77.06 L349.92,76.50 L349.94,75.95 L349.96,75.39 L349.98,74.83 L350.00,74.28 L350.02,73.72 L350.04,73.16 L350.05,72.61 L350.07,72.05 L350.09,71.49 L350.11,70.94 L350.13,70.38 L350.15,69.82 L350.16,69.27 L350.18,68.71 L350.20,68.15 L350.22,67.60 L350.24,67.04 L350.25,66.49 L350.27,65.93 L350.29,65.37 L350.31,64.82 L350.32,64.26 L350.34,63.70 L350.36,63.15 L350.37,62.59 L350.39,62.03 L350.41,61.48 L350.42,60.92 L350.44,60.36 L350.45,59.81 L350.47,59.25 L350.49,58.69 L350.50,58.14 L350.52,57.58 L350.53,57.02 L350.55,56.47 L350.57,55.91 L350.58,55.35 L350.60,54.80 L350.61,54.24 L350.63,53.69 L350.64,53.13 L350.66,52.57 L350.67,52.02 L350.69,51.46 L350.70,50.90 L350.71,50.35 L350.73,49.79 L350.74,49.23 L350.76,48.68 L350.77,48.12 L350.79,47.56 L350.80,47.01 L350.81,46.45 L350.83,45.89 L350.84,45.34 L350.86,44.78 L350.87,44.22 L350.88,43.67 L350.90,43.11 L350.91,42.56 L350.92,42.00 L350.94,41.44 L350.95,40.89 L350.96,40.33 L350.97,39.77 L350.99,39.22 L351.00,38.66 L351.01,38.10 L351.03,37.55 L351.04,36.99 L351.05,36.43 L351.06,35.88 L351.08,35.32 L351.09,34.76 L351.10,34.21 L351.11,33.65 L351.13,33.09 L351.14,32.54 L351.15,31.98 L351.16,31.42 L351.17,30.87 L351.18,30.31 L351.20,29.76 L351.21,29.20 L351.22,28.64 L351.23,28.09 L351.24,27.53 L351.25,26.97 L351.27,26.42 L351.28,25.86 L351.29,25.30 L351.30,24.75 L351.31,24.19 L351.32,23.63 L351.33,23.08 L351.34,22.52 L351.35,21.96 L351.37,21.41 L351.38,20.85 L351.39,20.29 L351.40,19.74 L351.41,19.18 L351.42,18.63 L351.43,18.07 L351.44,17.51 L351.45,16.96 L351.46,16.40 L351.47,15.84 L351.48,15.29 L351.49,14.73 L351.50,14.17 L351.51,13.62 L351.52,13.06 L351.53,12.50 L351.54,11.95 L351.55,11.39 L351.56,10.83 L351.57,10.28 L351.58,9.72 L351.59,9.16 L351.60,8.61 L351.61,8.05 L351.62,7.49" fill="none" stroke="#0000ff" stroke-width="1.7"/>
<path d="M363.44,230.10 L364.65,229.54 L365.73,228.99 L366.68,228.43 L367.52,227.87 L368.26,227.32 L368.91,226.76 L369.48,226.20 L369.98,225.65 L370.41,225.09 L370.78,224.53 L371.10,223.98 L371.38,223.42 L371.61,222.87 L371.81,222.31 L371.97,221.75 L372.10,221.20 L372.20,220.64 L372.28,220.08 L372.34,219.53 L372.37,218.97 L372.39,218.41" fill="none" stroke="#0000ff" stroke-width="1.7"/>
<path d="M39.90,217.86 L39.91,217.30 L39.93,216.74 L39.96,216.19 L40.01,215.63 L40.06,215.07 L40.12,214.52 L40.18,213.96 L40.25,213.40 L40.33,212.85 L40.41,212.29 L40.50,211.74 L40.59,211.18 L40.68,210.62 L40.78,210.07 L40.88,209.51 L40.98,208.95 L41.08,208.40 L41.18,207.84 L41.29,207.28 L41.39,206.73 L41.50,206.17 L41.61,205.61 L41.71,205.06 L41.82,204.50 L41.93,203.94 L42.03,203.39 L42.14,202.83 L42.25,202.27 L42.36,201.72 L42.46,201.16 L42.57,200.60 L42.67,200.05 L42.78,199.49 L42.88,198.94 L42.98,198.38 L43.08,197.82 L43.19,197.27 L43.29,196.71 L43.39,196.15 L43.48,195.60 L43.58,195.04 L43.68,194.48 L43.78,193.93 L43.87,193.37 L43.96,192.81 L44.06,192.26 L44.15,191.70 L44.24,191.14 L44.33,190.59 L44.42,190.03 L44.51,189.47 L44.60,188.92 L44.68,188.36 L44.77,187.81 L44.85,187.25 L44.94,186.69 L45.02,186.14 L45.10,185.58 L45.18,185.02 L45.26,184.47 L45.34,183.91 L45.42,183.35 L45.50,182.80 L45.57,182.24 L45.65,181.68 L45.72,181.13 L45.80,180.57 L45.87,180.01 L45.94,179.46 L46.01,178.90 L46.09,178.34 L46.16,177.79 L46.22,177.23 L46.29,176.67 L46.36,176.12 L46.43,175.56 L46.49,175.01 L46.56,174.45 L46.62,173.89 L46.69,173.34 L46.75,172.78 L46.81,172.22 L46.87,171.67 L46.93,171.11 L46.99,170.55 L47.05,170.00 L47.11,169.44 L47.17,168.88 L47.23,168.33 L47.28,167.77 L47.34,167.21 L47.40,166.66 L47.45,166.10 L47.51,165.54 L47.56,164.99 L47.61,164.43 L47.67,163.87 L47.72,163.32 L47.77,162.76 L47.82,162.21 L47.87,161.65 L47.92,161.09 L47.97,160.54 L48.02,159.98 L48.07,159.42 L48.12,158.87 L48.17,158.31 L48.21,157.75 L48.26,157.20 L48.31,156.64 L48.35,156.08 L48.40,155.53 L48.44,154.97 L48.49,154.41 L48.53,153.86 L48.57,153.30 L48.62,152.74 L48.66,152.19 L48.70,151.63 L48.74,151.08 L48.78,150.52 L48.83,149.96 L48.87,149.41 L48.91,148.85 L48.95,148.29 L48.99,147.74 L49.02,147.18 L49.06,146.62 L49.10,146.07 L49.14,145.51 L49.18,144.95 L49.21,144.40 L49.25,143.84 L49.29,143.28 L49.32,142.73 L49.36,142.17 L49.39,141.61 L49.43,141.06 L49.46,140.50 L49.50,139.94 L49.53,139.39 L49.57,138.83 L49.60,138.28 L49.63,137.72 L49.67,137.16 L49.70,136.61 L49.73,136.05 L49.77,135.49 L49.80,134.94 L49.83,134.38 L49.86,133.82 L49.89,133.27 L49.92,132.71 L49.95,132.15 L49.98,131.60 L50.01,131.04 L50.04,130.48 L50.07,129.93 L50.10,129.37 L50.13,128.81 L50.16,128.26 L50.19,127.70 L50.22,127.15 L50.24,126.59 L50.27,126.03 L50.30,125.48 L50.33,124.92 L50.35,124.36 L50.38,123.81 L50.41,123.25 L50.43,122.69 L50.46,122.14 L50.49,121.58 L50.51,121.02 L50.54,120.47 L50.56,119.91 L50.59,119.35 L50.61,118.80 L50.64,118.24 L50.66,117.68 L50.69,117.13 L50.71,116.57 L50.74,116.01 L50.76,115.46 L50.78,114.90 L50.81,114.35 L50.83,113.79 L50.85,113.23 L50.88,112.68 L50.90,112.12 L50.92,111.56 L50.95,111.01 L50.97,110.45 L50.99,109.89 L51.01,109.34 L51.03,108.78 L51.06,108.22 L51.08,107.67 L51.10,107.11 L51.12,106.55 L51.14,106.00 L51.16,105.44 L51.18,104.88 L51.20,104.33 L51.22,103.77 L51.24,103.22 L51.27,102.66 L51.29,102.10 L51.31,101.55 L51.32,100.99 L51.34,100.43 L51.36,99.88 L51.38,99.32 L51.40,98.76 L51.42,98.21 L51.44,97.65 L51.46,97.09 L51.48,96.54 L51.50,95.98 L51.52,95.42 L51.53,94.87 L51.55,94.31 L51.57,93.75 L51.59,93.20 L51.61,92.64 L51.62,92.08 L51.64,91.53 L51.66,90.97 L51.68,90.42 L51.69,89.86 L51.71,89.30 L51.73,88.75 L51.74,88.19 L51.76,87.63 L51.78,87.08 L51.79,86.52 L51.81,85.96 L51.83,85.41 L51.84,84.85 L51.86,84.29 L51.88,83.74 L51.89,83.18 L51.91,82.62 L51.92,82.07 L51.94,81.51 L51.95,80.95 L51.97,80.40 L51.99,79.84 L52.00,79.28 L52.02,78.73 L52.03,78.17 L52.05,77.62 L52.06,77.06 L52.08,76.50 L52.09,75.95 L52.11,75.39 L52.12,74.83 L52.13,74.28 L52.15,73.72 L52.16,73.16 L52.18,72.61 L52.19,72.05 L52.21,71.49 L52.22,70.94 L52.23,70.38 L52.25,69.82 L52.26,69.27 L52.27,68.71 L52.29,68.15 L52.30,67.60 L52.31,67.04 L52.33,66.49 L52.34,65.93 L52.35,65.37 L52.37,64.82 L52.38,64.26 L52.39,63.70 L52.41,63.15 L52.42,62.59 L52.43,62.03 L52.44,61.48 L52.46,60.92 L52.47,60.36 L52.48,59.81 L52.49,59.25 L52.51,58.69 L52.52,58.14 L52.53,57.58 L52.54,57.02 L52.55,56.47 L52.57,55.91 L52.58,55.35 L52.59,54.80 L52.60,54.24 L52.61,53.69 L52.63,53.13 L52.64,52.57 L52.65,52.02 L52.66,51.46 L52.67,50.90 L52.68,50.35 L52.69,49.79 L52.71,49.23 L52.72,48.68 L52.73,48.12 L52.74,47.56 L52.75,47.01 L52.76,46.45 L52.77,45.89 L52.78,45.34 L52.79,44.78 L52.80,44.22 L52.81,43.67 L52.82,43.11 L52.84,42.56 L52.85,42.00 L52.86,41.44 L52.87,40.89 L52.88,40.33 L52.89,39.77 L52.90,39.22 L52.91,38.66 L52.92,38.10 L52.93,37.55 L52.94,36.99 L52.95,36.43 L52.96,35.88 L52.97,35.32 L52.98,34.76 L52.99,34.21 L53.00,33.65 L53.01,33.09 L53.02,32.54 L53.03,31.98 L53.03,31.42 L53.04,30.87 L53.05,30.31 L53.06,29.76 L53.07,29.20 L53.08,28.64 L53.09,28.09 L53.10,27.53 L53.11,26.97 L53.12,26.42 L53.13,25.86 L53.14,25.30 L53.15,24.75 L53.15,24.19 L53.16,23.63 L53.17,23.08 L53.18,22.52 L53.19,21.96 L53.20,21.41 L53.21,20.85 L53.22,20.29 L53.22,19.74 L53.23,19.18 L53.24,18.63 L53.25,18.07 L53.26,17.51 L53.27,16.96 L53.27,16.40 L53.28,15.84 L53.29,15.29 L53.30,14.73 L53.31,14.17 L53.32,13.62 L53.32,13.06 L53.33,12.50 L53.34,11.95 L53.35,11.39 L53.36,10.83 L53.36,10.28 L53.37,9.72 L53.38,9.16 L53.39,8.61 L53.40,8.05 L53.40,7.49" fill="none" stroke="#0000ff" stroke-width="1.7"/>
<path d="M281.12,230.10 L284.56,229.54 L287.79,228.99 L290.84,228.43 L293.71,227.87 L296.42,227.32 L298.97,226.76 L301.38,226.20 L303.65,225.65 L305.80,225.09 L307.82,224.53 L309.74,223.98 L311.56,223.42 L313.27,222.87 L314.90,222.31 L316.45,221.75 L317.92,221.20 L319.31,220.64 L320.63,220.08 L321.89,219.53 L323.09,218.97 L324.23,218.41 L325.32,217.86 L326.36,217.30 L327.35,216.74 L328.30,216.19 L329.20,215.63 L330.07,215.07 L330.90,214.52 L331.70,213.96 L332.46,213.40 L333.19,212.85 L333.89,212.29 L334.56,211.74 L335.21,211.18 L335.83,210.62 L336.43,210.07 L337.01,209.51 L337.57,208.95 L338.10,208.40 L338.62,207.84 L339.11,207.28 L339.60,206.73 L340.06,206.17 L340.51,205.61 L340.94,205.06 L341.36,204.50 L341.76,203.94 L342.16,203.39 L342.54,202.83 L342.90,202.27 L343.26,201.72 L343.61,201.16 L343.94,200.60 L344.27,200.05 L344.58,199.49 L344.89,198.94 L345.19,198.38 L345.47,197.82 L345.76,197.27 L346.03,196.71 L346.29,196.15 L346.55,195.60 L346.80,195.04 L347.05,194.48 L347.29,193.93 L347.52,193.37 L347.75,192.81 L347.97,192.26 L348.18,191.70 L348.39,191.14 L348.60,190.59 L348.80,190.03 L348.99,189.47 L349.18,188.92 L349.37,188.36 L349.55,187.81 L349.72,187.25 L349.90,186.69 L350.07,186.14 L350.23,185.58 L350.39,185.02 L350.55,184.47 L350.71,183.91 L350.86,183.35 L351.01,182.80 L351.15,182.24 L351.29,181.68 L351.43,181.13 L351.57,180.57 L351.70,180.01 L351.83,179.46 L351.96,178.90 L352.09,178.34 L352.21,177.79 L352.33,177.23 L352.45,176.67 L352.56,176.12 L352.68,175.56 L352.79,175.01 L352.90,174.45 L353.01,173.89 L353.11,173.34 L353.22,172.78 L353.32,172.22 L353.42,171.67 L353.52,171.11 L353.61,170.55 L353.71,170.00 L353.80,169.44 L353.89,168.88 L353.98,168.33 L354.07,167.77 L354.16,167.21 L354.25,166.66 L354.33,166.10 L354.41,165.54 L354.49,164.99 L354.57,164.43 L354.65,163.87 L354.73,163.32 L354.81,162.76 L354.88,162.21 L354.96,161.65 L355.03,161.09 L355.10,160.54 L355.17,159.98 L355.24,159.42 L355.31,158.87 L355.38,158.31 L355.44,157.75 L355.51,157.20 L355.57,156.64 L355.64,156.08 L355.70,155.53 L355.76,154.97 L355.82,154.41 L355.88,153.86 L355.94,153.30 L356.00,152.74 L356.06,152.19 L356.12,151.63 L356.17,151.08 L356.23,150.52 L356.28,149.96 L356.33,149.41 L356.39,148.85 L356.44,148.29 L356.49,147.74 L356.54,147.18 L356.59,146.62 L356.64,146.07 L356.69,145.51 L356.74,144.95 L356.79,144.40 L356.84,143.84 L356.88,143.28 L356.93,142.73 L356.97,142.17 L357.02,141.61 L357.06,141.06 L357.11,140.50 L357.15,139.94 L357.19,139.39 L357.23,138.83 L357.28,138.28 L357.32,137.72 L357.36,137.16 L357.40,136.61 L357.44,136.05 L357.48,135.49 L357.52,134.94 L357.55,134.38 L357.59,133.82 L357.63,133.27 L357.67,132.71 L357.70,132.15 L357.74,131.60 L357.78,131.04 L357.81,130.48 L357.85,129.93 L357.88,129.37 L357.92,128.81 L357.95,128.26 L357.98,127.70 L358.02,127.15 L358.05,126.59 L358.08,126.03 L358.12,125.48 L358.15,124.92 L358.18,124.36 L358.21,123.81 L358.24,123.25 L358.27,122.69 L358.30,122.14 L358.33,121.58 L358.36,121.02 L358.39,120.47 L358.42,119.91 L358.45,119.35 L358.48,118.80 L358.50,118.24 L358.53,117.68 L358.56,117.13 L358.59,116.57 L358.62,116.01 L358.64,115.46 L358.67,114.90 L358.69,114.35 L358.72,113.79 L358.75,113.23 L358.77,112.68 L358.80,112.12 L358.82,111.56 L358.85,111.01 L358.87,110.45 L358.90,109.89 L358.92,109.34 L358.95,108.78 L358.97,108.22 L358.99,107.67 L359.02,107.11 L359.04,106.55 L359.06,106.00 L359.08,105.44 L359.11,104.88 L359.13,104.33 L359.15,103.77 L359.17,103.22 L359.20,102.66 L359.22,102.10 L359.24,101.55 L359.26,100.99 L359.28,100.43 L359.30,99.88 L359.32,99.32 L359.34,98.76 L359.36,98.21 L359.38,97.65 L359.40,97.09 L359.42,96.54 L359.44,95.98 L359.46,95.42 L359.48,94.87 L359.50,94.31 L359.52,93.75 L359.54,93.20 L359.56,92.64 L359.57,92.08 L359.59,91.53 L359.61,90.97 L359.63,90.42 L359.65,89.86 L359.67,89.30 L359.68,88.75 L359.70,88.19 L359.72,87.63 L359.73,87.08 L359.75,86.52 L359.77,85.96 L359.79,85.41 L359.80,84.85 L359.82,84.29 L359.84,83.74 L359.85,83.18 L359.87,82.62 L359.88,82.07 L359.90,81.51 L359.92,80.95 L359.93,80.40 L359.95,79.84 L359.96,79.28 L359.98,78.73 L359.99,78.17 L360.01,77.62 L360.02,77.06 L360.04,76.50 L360.05,75.95 L360.07,75.39 L360.08,74.83 L360.10,74.28 L360.11,73.72 L360.13,73.16 L360.14,72.61 L360.15,72.05 L360.17,71.49 L360.18,70.94 L360.20,70.38 L360.21,69.82 L360.22,69.27 L360.24,68.71 L360.25,68.15 L360.26,67.60 L360.28,67.04 L360.29,66.49 L360.30,65.93 L360.32,65.37 L360.33,64.82 L360.34,64.26 L360.35,63.70 L360.37,63.15 L360.38,62.59 L360.39,62.03 L360.40,61.48 L360.42,60.92 L360.43,60.36 L360.44,59.81 L360.45,59.25 L360.47,58.69 L360.48,58.14 L360.49,57.58 L360.50,57.02 L360.51,56.47 L360.52,55.91 L360.54,55.35 L360.55,54.80 L360.56,54.24 L360.57,53.69 L360.58,53.13 L360.59,52.57 L360.60,52.02 L360.61,51.46 L360.63,50.90 L360.64,50.35 L360.65,49.79 L360.66,49.23 L360.67,48.68 L360.68,48.12 L360.69,47.56 L360.70,47.01 L360.71,46.45 L360.72,45.89 L360.73,45.34 L360.74,44.78 L360.75,44.22 L360.76,43.67 L360.77,43.11 L360.78,42.56 L360.79,42.00 L360.80,41.44 L360.81,40.89 L360.82,40.33 L360.83,39.77 L360.84,39.22 L360.85,38.66 L360.86,38.10 L360.87,37.55 L360.88,36.99 L360.89,36.43 L360.90,35.88 L360.91,35.32 L360.92,34.76 L360.92,34.21 L360.93,33.65 L360.94,33.09 L360.95,32.54 L360.96,31.98 L360.97,31.42 L360.98,30.87 L360.99,30.31 L361.00,29.76 L361.00,29.20 L361.01,28.64 L361.02,28.09 L361.03,27.53 L361.04,26.97 L361.05,26.42 L361.06,25.86 L361.06,25.30 L361.07,24.75 L361.08,24.19 L361.09,23.63 L361.10,23.08 L361.11,22.52 L361.11,21.96 L361.12,21.41 L361.13,20.85 L361.14,20.29 L361.15,19.74 L361.15,19.18 L361.16,18.63 L361.17,18.07 L361.18,17.51 L361.18,16.96 L361.19,16.40 L361.20,15.84 L361.21,15.29 L361.21,14.73 L361.22,14.17 L361.23,13.62 L361.24,13.06 L361.24,12.50 L361.25,11.95 L361.26,11.39 L361.27,10.83 L361.27,10.28 L361.28,9.72 L361.29,9.16 L361.30,8.61 L361.30,8.05 L361.31,7.49" fill="none" stroke="#000000" stroke-width="1.7"/>
<path d="M354.54,230.10 L356.24,229.54 L357.79,228.99 L359.20,228.43 L360.48,227.87 L361.64,227.32 L362.70,226.76 L363.66,226.20 L364.53,225.65 L365.32,225.09 L366.03,224.53 L366.68,223.98 L367.28,223.42 L367.81,222.87 L368.30,222.31 L368.74,221.75 L369.14,221.20 L369.50,220.64 L369.83,220.08 L370.13,219.53 L370.39,218.97 L370.64,218.41 L370.85,217.86 L371.05,217.30 L371.23,216.74 L371.39,216.19 L371.53,215.63 L371.66,215.07 L371.77,214.52 L371.87,213.96 L371.96,213.40 L372.04,212.85 L372.11,212.29 L372.17,211.74 L372.22,211.18 L372.26,210.62 L372.30,210.07 L372.33,209.51 L372.35,208.95 L372.37,208.40 L372.38,207.84 L372.39,207.28 L372.40,206.73" fill="none" stroke="#000000" stroke-width="1.7"/>
<path d="M39.90,206.17 L39.90,205.61 L39.91,205.06 L39.92,204.50 L39.93,203.94 L39.94,203.39 L39.96,202.83 L39.98,202.27 L40.00,201.72 L40.02,201.16 L40.04,200.60 L40.07,200.05 L40.09,199.49 L40.12,198.94 L40.15,198.38 L40.18,197.82 L40.21,197.27 L40.24,196.71 L40.27,196.15 L40.31,195.60 L40.34,195.04 L40.37,194.48 L40.41,193.93 L40.44,193.37 L40.48,192.81 L40.52,192.26 L40.55,191.70 L40.59,191.14 L40.62,190.59 L40.66,190.03 L40.70,189.47 L40.73,188.92 L40.77,188.36 L40.81,187.81 L40.85,187.25 L40.88,186.69 L40.92,186.14 L40.96,185.58 L40.99,185.02 L41.03,184.47 L41.07,183.91 L41.10,183.35 L41.14,182.80 L41.18,182.24 L41.21,181.68 L41.25,181.13 L41.28,180.57 L41.32,180.01 L41.36,179.46 L41.39,178.90 L41.43,178.34 L41.46,177.79 L41.50,177.23 L41.53,176.67 L41.56,176.12 L41.60,175.56 L41.63,175.01 L41.67,174.45 L41.70,173.89 L41.73,173.34 L41.77,172.78 L41.80,172.22 L41.83,171.67 L41.86,171.11 L41.90,170.55 L41.93,170.00 L41.96,169.44 L41.99,168.88 L42.02,168.33 L42.05,167.77 L42.08,167.21 L42.12,166.66 L42.15,166.10 L42.18,165.54 L42.21,164.99 L42.23,164.43 L42.26,163.87 L42.29,163.32 L42.32,162.76 L42.35,162.21 L42.38,161.65 L42.41,161.09 L42.44,160.54 L42.46,159.98 L42.49,159.42 L42.52,158.87 L42.55,158.31 L42.57,157.75 L42.60,157.20 L42.63,156.64 L42.65,156.08 L42.68,155.53 L42.70,154.97 L42.73,154.41 L42.75,153.86 L42.78,153.30 L42.81,152.74 L42.83,152.19 L42.85,151.63 L42.88,151.08 L42.90,150.52 L42.93,149.96 L42.95,149.41 L42.97,148.85 L43.00,148.29 L43.02,147.74 L43.04,147.18 L43.07,146.62 L43.09,146.07 L43.11,145.51 L43.14,144.95 L43.16,144.40 L43.18,143.84 L43.20,143.28 L43.22,142.73 L43.24,142.17 L43.27,141.61 L43.29,141.06 L43.31,140.50 L43.33,139.94 L43.35,139.39 L43.37,138.83 L43.39,138.28 L43.41,137.72 L43.43,137.16 L43.45,136.61 L43.47,136.05 L43.49,135.49 L43.51,134.94 L43.53,134.38 L43.55,133.82 L43.57,133.27 L43.59,132.71 L43.60,132.15 L43.62,131.60 L43.64,131.04 L43.66,130.48 L43.68,129.93 L43.70,129.37 L43.71,128.81 L43.73,128.26 L43.75,127.70 L43.77,127.15 L43.78,126.59 L43.80,126.03 L43.82,125.48 L43.84,124.92 L43.85,124.36 L43.87,123.81 L43.89,123.25 L43.90,122.69 L43.92,122.14 L43.93,121.58 L43.95,121.02 L43.97,120.47 L43.98,119.91 L44.00,119.35 L44.01,118.80 L44.03,118.24 L44.05,117.68 L44.06,117.13 L44.08,116.57 L44.09,116.01 L44.11,115.46 L44.12,114.90 L44.14,114.35 L44.15,113.79 L44.17,113.23 L44.18,112.68 L44.19,112.12 L44.21,111.56 L44.22,111.01 L44.24,110.45 L44.25,109.89 L44.27,109.34 L44.28,108.78 L44.29,108.22 L44.31,107.67 L44.32,107.11 L44.33,106.55 L44.35,106.00 L44.36,105.44 L44.37,104.88 L44.39,104.33 L44.40,103.77 L44.41,103.22 L44.43,102.66 L44.44,102.10 L44.45,101.55 L44.46,100.99 L44.48,100.43 L44.49,99.88 L44.50,99.32 L44.51,98.76 L44.53,98.21 L44.54,97.65 L44.55,97.09 L44.56,96.54 L44.57,95.98 L44.59,95.42 L44.60,94.87 L44.61,94.31 L44.62,93.75 L44.63,93.20 L44.64,92.64 L44.66,92.08 L44.67,91.53 L44.68,90.97 L44.69,90.42 L44.70,89.86 L44.71,89.30 L44.72,88.75 L44.73,88.19 L44.74,87.63 L44.75,87.08 L44.77,86.52 L44.78,85.96 L44.79,85.41 L44.80,84.85 L44.81,84.29 L44.82,83.74 L44.83,83.18 L44.84,82.62 L44.85,82.07 L44.86,81.51 L44.87,80.95 L44.88,80.40 L44.89,79.84 L44.90,79.28 L44.91,78.73 L44.92,78.17 L44.93,77.62 L44.94,77.06 L44.95,76.50 L44.96,75.95 L44.97,75.39 L44.98,74.83 L44.99,74.28 L45.00,73.72 L45.01,73.16 L45.01,72.61 L45.02,72.05 L45.03,71.49 L45.04,70.94 L45.05,70.38 L45.06,69.82 L45.07,69.27 L45.08,68.71 L45.09,68.15 L45.10,67.60 L45.10,67.04 L45.11,66.49 L45.12,65.93 L45.13,65.37 L45.14,64.82 L45.15,64.26 L45.16,63.70 L45.16,63.15 L45.17,62.59 L45.18,62.03 L45.19,61.48 L45.20,60.92 L45.21,60.36 L45.21,59.81 L45.22,59.25 L45.23,58.69 L45.24,58.14 L45.25,57.58 L45.25,57.02 L45.26,56.47 L45.27,55.91 L45.28,55.35 L45.29,54.80 L45.29,54.24 L45.30,53.69 L45.31,53.13 L45.32,52.57 L45.32,52.02 L45.33,51.46 L45.34,50.90 L45.35,50.35 L45.35,49.79 L45.36,49.23 L45.37,48.68 L45.38,48.12 L45.38,47.56 L45.39,47.01 L45.40,46.45 L45.40,45.89 L45.41,45.34 L45.42,44.78 L45.43,44.22 L45.43,43.67 L45.44,43.11 L45.45,42.56 L45.45,42.00 L45.46,41.44 L45.47,40.89 L45.47,40.33 L45.48,39.77 L45.49,39.22 L45.49,38.66 L45.50,38.10 L45.51,37.55 L45.51,36.99 L45.52,36.43 L45.53,35.88 L45.53,35.32 L45.54,34.76 L45.55,34.21 L45.55,33.65 L45.56,33.09 L45.57,32.54 L45.57,31.98 L45.58,31.42 L45.59,30.87 L45.59,30.31 L45.60,29.76 L45.60,29.20 L45.61,28.64 L45.62,28.09 L45.62,27.53 L45.63,26.97 L45.63,26.42 L45.64,25.86 L45.65,25.30 L45.65,24.75 L45.66,24.19 L45.66,23.63 L45.67,23.08 L45.68,22.52 L45.68,21.96 L45.69,21.41 L45.69,20.85 L45.70,20.29 L45.71,19.74 L45.71,19.18 L45.72,18.63 L45.72,18.07 L45.73,17.51 L45.73,16.96 L45.74,16.40 L45.74,15.84 L45.75,15.29 L45.76,14.73 L45.76,14.17 L45.77,13.62 L45.77,13.06 L45.78,12.50 L45.78,11.95 L45.79,11.39 L45.79,10.83 L45.80,10.28 L45.80,9.72 L45.81,9.16 L45.81,8.61 L45.82,8.05 L45.83,7.49" fill="none" stroke="#000000" stroke-width="1.7"/>
</g>
<g stroke="#444" stroke-width="0.5" fill="none">
<rect x="39.5" y="8.5" width="333.0" height="222.0"/>
<path d="M39.90,230.5 v-4.5 M39.90,8.5 v4.5"/>
<path d="M56.52,230.5 v-2.7 M56.52,8.5 v2.7"/>
<path d="M73.15,230.5 v-2.7 M73.15,8.5 v2.7"/>
<path d="M89.78,230.5 v-2.7 M89.78,8.5 v2.7"/>
<path d="M106.40,230.5 v-2.7 M106.40,8.5 v2.7"/>
<path d="M123.03,230.5 v-4.5 M123.03,8.5 v4.5"/>
<path d="M139.65,230.5 v-2.7 M139.65,8.5 v2.7"/>
<path d="M156.28,230.5 v-2.7 M156.28,8.5 v2.7"/>
<path d="M172.90,230.5 v-2.7 M172.90,8.5 v2.7"/>
<path d="M189.53,230.5 v-2.7 M189.53,8.5 v2.7"/>
<path d="M206.15,230.5 v-4.5 M206.15,8.5 v4.5"/>
<path d="M222.78,230.5 v-2.7 M222.78,8.5 v2.7"/>
<path d="M239.40,230.5 v-2.7 M239.40,8.5 v2.7"/>
<path d="M256.02,230.5 v-2.7 M256.02,8.5 v2.7"/>
<path d="M272.65,230.5 v-2.7 M272.65,8.5 v2.7"/>
<path d="M289.27,230.5 v-4.5 M289.27,8.5 v4.5"/>
<path d="M305.90,230.5 v-2.7 M305.90,8.5 v2.7"/>
<path d="M322.53,230.5 v-2.7 M322.53,8.5 v2.7"/>
<path d="M339.15,230.5 v-2.7 M339.15,8.5 v2.7"/>
<path d="M355.77,230.5 v-2.7 M355.77,8.5 v2.7"/>
<path d="M372.40,230.5 v-4.5 M372.40,8.5 v4.5"/>
<path d="M39.5,230.10 h2.7 M372.5,230.10 h-2.7"/>
<path d="M39.5,218.43 h2.7 M372.5,218.43 h-2.7"/>
<path d="M39.5,206.76 h2.7 M372.5,206.76 h-2.7"/>
<path d="M39.5,195.09 h2.7 M372.5,195.09 h-2.7"/>
<path d="M39.5,183.42 h4.5 M372.5,183.42 h-4.5"/>
<path d="M39.5,171.75 h2.7 M372.5,171.75 h-2.7"/>
<path d="M39.5,160.08 h2.7 M372.5,160.08 h-2.7"/>
<path d="M39.5,148.41 h2.7 M372.5,148.41 h-2.7"/>
<path d="M39.5,136.74 h2.7 M372.5,136.74 h-2.7"/>
<path d="M39.5,125.07 h4.5 M372.5,125.07 h-4.5"/>
<path d="M39.5,113.40 h2.7 M372.5,113.40 h-2.7"/>
<path d="M39.5,101.73 h2.7 M372.5,101.73 h-2.7"/>
<path d="M39.5,90.06 h2.7 M372.5,90.06 h-2.7"/>
<path d="M39.5,78.39 h2.7 M372.5,78.39 h-2.7"/>
<path d="M39.5,66.72 h4.5 M372.5,66.72 h-4.5"/>
<path d="M39.5,55.05 h2.7 M372.5,55.05 h-2.7"/>
<path d="M39.5,43.38 h2.7 M372.5,43.38 h-2.7"/>
<path d="M39.5,31.71 h2.7 M372.5,31.71 h-2.7"/>
<path d="M39.5,20.04 h2.7 M372.5,20.04 h-2.7"/>
<path d="M39.5,8.37 h4.5 M372.5,8.37 h-4.5"/>
</g>
<g font-size="15.5" fill="#000" text-anchor="middle">
<text x="25.3" y="245.5" text-anchor="start" font-size="16.5">−</text><text x="35.1" y="244.7" text-anchor="start">1.0</text>
<text x="108.4" y="245.5" text-anchor="start" font-size="16.5">−</text><text x="118.2" y="244.7" text-anchor="start">0.5</text>
<text x="206.2" y="244.7">0.0</text>
<text x="289.3" y="244.7">0.5</text>
<text x="372.4" y="244.7">1.0</text>
</g>
<g font-size="15.5" fill="#000" text-anchor="end">
<text x="37.2" y="12.6">20</text>
<text x="37.2" y="70.9">15</text>
<text x="37.2" y="129.3">10</text>
<text x="37.2" y="187.6">5</text>
</g>
<text x="206" y="265.9" font-size="17" text-anchor="middle">sin <tspan font-style="italic">α</tspan></text>
<text transform="translate(12.2,120.3) rotate(-90)" font-size="17" text-anchor="middle">tan <tspan font-style="italic" dx="0.8">β</tspan></text>
<g font-size="13" fill="#1414b0" stroke="#1414b0" stroke-width="0.18">
<text x="137.9" y="127.6">H</text>
<path d="M151,124.4 H159.7 M157.5,122 Q158.4,123.9 160.1,124.4 Q158.4,124.9 157.5,126.8" fill="none" stroke-width="0.8"/>
<text x="162.6" y="127.6">Z</text>
<text x="172.6" y="127.6">Z'</text>
<text x="187.8" y="127.6">(10%</text>
<text x="218.7" y="127.6">of</text>
<text x="232.7" y="127.6" letter-spacing="-0.4">the</text>
<text x="251" y="127.6">SM)</text>
</g>
<text transform="translate(78.4,66.2) rotate(-90)" font-size="14" letter-spacing="-0.5" fill="#f00020" text-anchor="middle">100</text>
<text transform="translate(330.9,66.2) rotate(-90)" font-size="14" letter-spacing="-0.5" fill="#f00020" text-anchor="middle">100</text>
</svg>
</body></html>
